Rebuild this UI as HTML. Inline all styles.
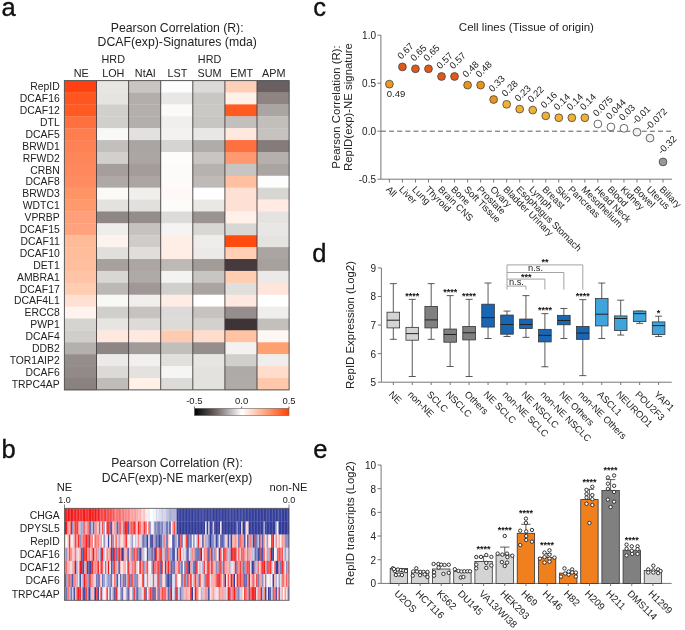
<!DOCTYPE html>
<html><head><meta charset="utf-8"><style>
html,body{margin:0;padding:0;background:#fff;}
svg{display:block;font-family:"Liberation Sans", sans-serif;will-change:transform;}
</style></head><body>
<svg width="685" height="630" viewBox="0 0 685 630">
<rect width="685" height="630" fill="#fff"/>
<text x="1.50" y="15.80" font-size="25.5" text-anchor="start" fill="#111" stroke="#111" stroke-width="0.35">a</text>
<text x="1.50" y="458.00" font-size="25.5" text-anchor="start" fill="#111" stroke="#111" stroke-width="0.35">b</text>
<text x="313.20" y="16.00" font-size="25.5" text-anchor="start" fill="#111" stroke="#111" stroke-width="0.35">c</text>
<text x="312.30" y="262.00" font-size="25.5" text-anchor="start" fill="#111" stroke="#111" stroke-width="0.35">d</text>
<text x="313.20" y="457.60" font-size="25.5" text-anchor="start" fill="#111" stroke="#111" stroke-width="0.35">e</text>
<text x="177.20" y="32.00" font-size="12.25" text-anchor="middle" fill="#222">Pearson Correlation (R):</text>
<text x="177.20" y="46.40" font-size="12.25" text-anchor="middle" fill="#222">DCAF(exp)-Signatures (mda)</text>
<text x="81.15" y="76.90" font-size="10.8" text-anchor="middle" fill="#222">NE</text>
<text x="113.25" y="63.00" font-size="10.8" text-anchor="middle" fill="#222">HRD</text>
<text x="113.25" y="76.90" font-size="10.8" text-anchor="middle" fill="#222">LOH</text>
<text x="145.35" y="76.90" font-size="10.8" text-anchor="middle" fill="#222">NtAI</text>
<text x="177.45" y="76.90" font-size="10.8" text-anchor="middle" fill="#222">LST</text>
<text x="209.55" y="63.00" font-size="10.8" text-anchor="middle" fill="#222">HRD</text>
<text x="209.55" y="76.90" font-size="10.8" text-anchor="middle" fill="#222">SUM</text>
<text x="241.65" y="76.90" font-size="10.8" text-anchor="middle" fill="#222">EMT</text>
<text x="273.75" y="76.90" font-size="10.8" text-anchor="middle" fill="#222">APM</text>
<text x="59.70" y="90.30" font-size="10.4" text-anchor="end" fill="#222">RepID</text>
<rect x="64.40" y="80.60" width="32.40" height="12.20" fill="#ff4010"/>
<rect x="96.50" y="80.60" width="32.40" height="12.20" fill="#e8e6e3"/>
<rect x="128.60" y="80.60" width="32.40" height="12.20" fill="#c8c5c2"/>
<rect x="160.70" y="80.60" width="32.40" height="12.20" fill="#fdfdfd"/>
<rect x="192.80" y="80.60" width="32.40" height="12.20" fill="#dcdad8"/>
<rect x="224.90" y="80.60" width="32.40" height="12.20" fill="#ffd0b8"/>
<rect x="257.00" y="80.60" width="32.40" height="12.20" fill="#6a5f62"/>
<text x="59.70" y="102.19" font-size="10.4" text-anchor="end" fill="#222">DCAF16</text>
<rect x="64.40" y="92.49" width="32.40" height="12.20" fill="#ff5520"/>
<rect x="96.50" y="92.49" width="32.40" height="12.20" fill="#e5e4e1"/>
<rect x="128.60" y="92.49" width="32.40" height="12.20" fill="#b3aeab"/>
<rect x="160.70" y="92.49" width="32.40" height="12.20" fill="#e8e7e5"/>
<rect x="192.80" y="92.49" width="32.40" height="12.20" fill="#c9c7c4"/>
<rect x="224.90" y="92.49" width="32.40" height="12.20" fill="#fff0e8"/>
<rect x="257.00" y="92.49" width="32.40" height="12.20" fill="#8e8583"/>
<text x="59.70" y="114.09" font-size="10.4" text-anchor="end" fill="#222">DCAF12</text>
<rect x="64.40" y="104.39" width="32.40" height="12.20" fill="#ff5a22"/>
<rect x="96.50" y="104.39" width="32.40" height="12.20" fill="#d2d0cd"/>
<rect x="128.60" y="104.39" width="32.40" height="12.20" fill="#b4afac"/>
<rect x="160.70" y="104.39" width="32.40" height="12.20" fill="#fafaf9"/>
<rect x="192.80" y="104.39" width="32.40" height="12.20" fill="#cac8c5"/>
<rect x="224.90" y="104.39" width="32.40" height="12.20" fill="#ff5a20"/>
<rect x="257.00" y="104.39" width="32.40" height="12.20" fill="#aaa5a2"/>
<text x="59.70" y="125.98" font-size="10.4" text-anchor="end" fill="#222">DTL</text>
<rect x="64.40" y="116.28" width="32.40" height="12.20" fill="#ff7040"/>
<rect x="96.50" y="116.28" width="32.40" height="12.20" fill="#d1cfcc"/>
<rect x="128.60" y="116.28" width="32.40" height="12.20" fill="#b3afac"/>
<rect x="160.70" y="116.28" width="32.40" height="12.20" fill="#f0efee"/>
<rect x="192.80" y="116.28" width="32.40" height="12.20" fill="#c8c6c3"/>
<rect x="224.90" y="116.28" width="32.40" height="12.20" fill="#c2bfbc"/>
<rect x="257.00" y="116.28" width="32.40" height="12.20" fill="#c2bfbb"/>
<text x="59.70" y="137.88" font-size="10.4" text-anchor="end" fill="#222">DCAF5</text>
<rect x="64.40" y="128.18" width="32.40" height="12.20" fill="#ff7e50"/>
<rect x="96.50" y="128.18" width="32.40" height="12.20" fill="#f8f8f6"/>
<rect x="128.60" y="128.18" width="32.40" height="12.20" fill="#e2e1df"/>
<rect x="160.70" y="128.18" width="32.40" height="12.20" fill="#f3f2f1"/>
<rect x="192.80" y="128.18" width="32.40" height="12.20" fill="#e8e7e5"/>
<rect x="224.90" y="128.18" width="32.40" height="12.20" fill="#ffe8e0"/>
<rect x="257.00" y="128.18" width="32.40" height="12.20" fill="#c5c2bf"/>
<text x="59.70" y="149.77" font-size="10.4" text-anchor="end" fill="#222">BRWD1</text>
<rect x="64.40" y="140.07" width="32.40" height="12.20" fill="#ff8255"/>
<rect x="96.50" y="140.07" width="32.40" height="12.20" fill="#c2bfbc"/>
<rect x="128.60" y="140.07" width="32.40" height="12.20" fill="#aaa5a2"/>
<rect x="160.70" y="140.07" width="32.40" height="12.20" fill="#d5d4d2"/>
<rect x="192.80" y="140.07" width="32.40" height="12.20" fill="#b0aca9"/>
<rect x="224.90" y="140.07" width="32.40" height="12.20" fill="#ff7040"/>
<rect x="257.00" y="140.07" width="32.40" height="12.20" fill="#857b7a"/>
<text x="59.70" y="161.67" font-size="10.4" text-anchor="end" fill="#222">RFWD2</text>
<rect x="64.40" y="151.97" width="32.40" height="12.20" fill="#ff8658"/>
<rect x="96.50" y="151.97" width="32.40" height="12.20" fill="#d2d0cd"/>
<rect x="128.60" y="151.97" width="32.40" height="12.20" fill="#aba6a3"/>
<rect x="160.70" y="151.97" width="32.40" height="12.20" fill="#fefcfb"/>
<rect x="192.80" y="151.97" width="32.40" height="12.20" fill="#c8c5c2"/>
<rect x="224.90" y="151.97" width="32.40" height="12.20" fill="#ff9a70"/>
<rect x="257.00" y="151.97" width="32.40" height="12.20" fill="#b5b0ad"/>
<text x="59.70" y="173.56" font-size="10.4" text-anchor="end" fill="#222">CRBN</text>
<rect x="64.40" y="163.87" width="32.40" height="12.20" fill="#ff895c"/>
<rect x="96.50" y="163.87" width="32.40" height="12.20" fill="#a59e9c"/>
<rect x="128.60" y="163.87" width="32.40" height="12.20" fill="#a39c9a"/>
<rect x="160.70" y="163.87" width="32.40" height="12.20" fill="#fdfbfa"/>
<rect x="192.80" y="163.87" width="32.40" height="12.20" fill="#b6b2af"/>
<rect x="224.90" y="163.87" width="32.40" height="12.20" fill="#c8c4c1"/>
<rect x="257.00" y="163.87" width="32.40" height="12.20" fill="#aaa5a2"/>
<text x="59.70" y="185.46" font-size="10.4" text-anchor="end" fill="#222">DCAF8</text>
<rect x="64.40" y="175.76" width="32.40" height="12.20" fill="#ff8c60"/>
<rect x="96.50" y="175.76" width="32.40" height="12.20" fill="#aea9a6"/>
<rect x="128.60" y="175.76" width="32.40" height="12.20" fill="#aba6a3"/>
<rect x="160.70" y="175.76" width="32.40" height="12.20" fill="#fcfbfa"/>
<rect x="192.80" y="175.76" width="32.40" height="12.20" fill="#bdbab7"/>
<rect x="224.90" y="175.76" width="32.40" height="12.20" fill="#ffc0a0"/>
<rect x="257.00" y="175.76" width="32.40" height="12.20" fill="#fdfdfd"/>
<text x="59.70" y="197.35" font-size="10.4" text-anchor="end" fill="#222">BRWD3</text>
<rect x="64.40" y="187.65" width="32.40" height="12.20" fill="#ff9565"/>
<rect x="96.50" y="187.65" width="32.40" height="12.20" fill="#fcfaf8"/>
<rect x="128.60" y="187.65" width="32.40" height="12.20" fill="#f0efed"/>
<rect x="160.70" y="187.65" width="32.40" height="12.20" fill="#fef9f7"/>
<rect x="192.80" y="187.65" width="32.40" height="12.20" fill="#ffffff"/>
<rect x="224.90" y="187.65" width="32.40" height="12.20" fill="#ffe0d5"/>
<rect x="257.00" y="187.65" width="32.40" height="12.20" fill="#d8d6d3"/>
<text x="59.70" y="209.25" font-size="10.4" text-anchor="end" fill="#222">WDTC1</text>
<rect x="64.40" y="199.55" width="32.40" height="12.20" fill="#ff9a6e"/>
<rect x="96.50" y="199.55" width="32.40" height="12.20" fill="#e4e2df"/>
<rect x="128.60" y="199.55" width="32.40" height="12.20" fill="#e2e0dd"/>
<rect x="160.70" y="199.55" width="32.40" height="12.20" fill="#fdfcfb"/>
<rect x="192.80" y="199.55" width="32.40" height="12.20" fill="#e9e8e5"/>
<rect x="224.90" y="199.55" width="32.40" height="12.20" fill="#ffe0d5"/>
<rect x="257.00" y="199.55" width="32.40" height="12.20" fill="#ffebe3"/>
<text x="59.70" y="221.14" font-size="10.4" text-anchor="end" fill="#222">VPRBP</text>
<rect x="64.40" y="211.44" width="32.40" height="12.20" fill="#ffa07a"/>
<rect x="96.50" y="211.44" width="32.40" height="12.20" fill="#8f8785"/>
<rect x="128.60" y="211.44" width="32.40" height="12.20" fill="#958d8b"/>
<rect x="160.70" y="211.44" width="32.40" height="12.20" fill="#dddbd9"/>
<rect x="192.80" y="211.44" width="32.40" height="12.20" fill="#9a9391"/>
<rect x="224.90" y="211.44" width="32.40" height="12.20" fill="#fff0ea"/>
<rect x="257.00" y="211.44" width="32.40" height="12.20" fill="#e4e3e0"/>
<text x="59.70" y="233.04" font-size="10.4" text-anchor="end" fill="#222">DCAF15</text>
<rect x="64.40" y="223.34" width="32.40" height="12.20" fill="#ffa27d"/>
<rect x="96.50" y="223.34" width="32.40" height="12.20" fill="#eeedeb"/>
<rect x="128.60" y="223.34" width="32.40" height="12.20" fill="#c5c2bf"/>
<rect x="160.70" y="223.34" width="32.40" height="12.20" fill="#f5f4f3"/>
<rect x="192.80" y="223.34" width="32.40" height="12.20" fill="#d9d7d4"/>
<rect x="224.90" y="223.34" width="32.40" height="12.20" fill="#d9d7d4"/>
<rect x="257.00" y="223.34" width="32.40" height="12.20" fill="#e8e7e5"/>
<text x="59.70" y="244.93" font-size="10.4" text-anchor="end" fill="#222">DCAF11</text>
<rect x="64.40" y="235.23" width="32.40" height="12.20" fill="#ffbb98"/>
<rect x="96.50" y="235.23" width="32.40" height="12.20" fill="#fdf3ee"/>
<rect x="128.60" y="235.23" width="32.40" height="12.20" fill="#cfccc9"/>
<rect x="160.70" y="235.23" width="32.40" height="12.20" fill="#ffeee6"/>
<rect x="192.80" y="235.23" width="32.40" height="12.20" fill="#eeedeb"/>
<rect x="224.90" y="235.23" width="32.40" height="12.20" fill="#ff4a10"/>
<rect x="257.00" y="235.23" width="32.40" height="12.20" fill="#e4e3e0"/>
<text x="59.70" y="256.83" font-size="10.4" text-anchor="end" fill="#222">DCAF10</text>
<rect x="64.40" y="247.13" width="32.40" height="12.20" fill="#ffbd9c"/>
<rect x="96.50" y="247.13" width="32.40" height="12.20" fill="#e0dfdc"/>
<rect x="128.60" y="247.13" width="32.40" height="12.20" fill="#dfdeda"/>
<rect x="160.70" y="247.13" width="32.40" height="12.20" fill="#ffeee6"/>
<rect x="192.80" y="247.13" width="32.40" height="12.20" fill="#eceae8"/>
<rect x="224.90" y="247.13" width="32.40" height="12.20" fill="#ffd0b5"/>
<rect x="257.00" y="247.13" width="32.40" height="12.20" fill="#aaa5a2"/>
<text x="59.70" y="268.72" font-size="10.4" text-anchor="end" fill="#222">DET1</text>
<rect x="64.40" y="259.02" width="32.40" height="12.20" fill="#ffbe9e"/>
<rect x="96.50" y="259.02" width="32.40" height="12.20" fill="#a7a19e"/>
<rect x="128.60" y="259.02" width="32.40" height="12.20" fill="#aba6a3"/>
<rect x="160.70" y="259.02" width="32.40" height="12.20" fill="#bdbab6"/>
<rect x="192.80" y="259.02" width="32.40" height="12.20" fill="#a29c99"/>
<rect x="224.90" y="259.02" width="32.40" height="12.20" fill="#463a3e"/>
<rect x="257.00" y="259.02" width="32.40" height="12.20" fill="#a7a19e"/>
<text x="59.70" y="280.62" font-size="10.4" text-anchor="end" fill="#222">AMBRA1</text>
<rect x="64.40" y="270.92" width="32.40" height="12.20" fill="#ffc3a5"/>
<rect x="96.50" y="270.92" width="32.40" height="12.20" fill="#d9d7d4"/>
<rect x="128.60" y="270.92" width="32.40" height="12.20" fill="#aeaaa7"/>
<rect x="160.70" y="270.92" width="32.40" height="12.20" fill="#f3f3f1"/>
<rect x="192.80" y="270.92" width="32.40" height="12.20" fill="#c8c6c3"/>
<rect x="224.90" y="270.92" width="32.40" height="12.20" fill="#ffcdb0"/>
<rect x="257.00" y="270.92" width="32.40" height="12.20" fill="#eceae8"/>
<text x="59.70" y="292.51" font-size="10.4" text-anchor="end" fill="#222">DCAF17</text>
<rect x="64.40" y="282.81" width="32.40" height="12.20" fill="#ffcdb2"/>
<rect x="96.50" y="282.81" width="32.40" height="12.20" fill="#bcb8b5"/>
<rect x="128.60" y="282.81" width="32.40" height="12.20" fill="#9f9896"/>
<rect x="160.70" y="282.81" width="32.40" height="12.20" fill="#d1cfcc"/>
<rect x="192.80" y="282.81" width="32.40" height="12.20" fill="#aaa5a2"/>
<rect x="224.90" y="282.81" width="32.40" height="12.20" fill="#e0dfdc"/>
<rect x="257.00" y="282.81" width="32.40" height="12.20" fill="#ffe5da"/>
<text x="59.70" y="304.41" font-size="10.4" text-anchor="end" fill="#222">DCAF4L1</text>
<rect x="64.40" y="294.71" width="32.40" height="12.20" fill="#ffe0d2"/>
<rect x="96.50" y="294.71" width="32.40" height="12.20" fill="#f8f8f6"/>
<rect x="128.60" y="294.71" width="32.40" height="12.20" fill="#f0efed"/>
<rect x="160.70" y="294.71" width="32.40" height="12.20" fill="#ffede5"/>
<rect x="192.80" y="294.71" width="32.40" height="12.20" fill="#ffffff"/>
<rect x="224.90" y="294.71" width="32.40" height="12.20" fill="#ffe8e0"/>
<rect x="257.00" y="294.71" width="32.40" height="12.20" fill="#ffffff"/>
<text x="59.70" y="316.30" font-size="10.4" text-anchor="end" fill="#222">ERCC8</text>
<rect x="64.40" y="306.61" width="32.40" height="12.20" fill="#fff3ee"/>
<rect x="96.50" y="306.61" width="32.40" height="12.20" fill="#d1cfcc"/>
<rect x="128.60" y="306.61" width="32.40" height="12.20" fill="#c6c3c0"/>
<rect x="160.70" y="306.61" width="32.40" height="12.20" fill="#dddbd9"/>
<rect x="192.80" y="306.61" width="32.40" height="12.20" fill="#c6c3c0"/>
<rect x="224.90" y="306.61" width="32.40" height="12.20" fill="#968e8c"/>
<rect x="257.00" y="306.61" width="32.40" height="12.20" fill="#efeeed"/>
<text x="59.70" y="328.20" font-size="10.4" text-anchor="end" fill="#222">PWP1</text>
<rect x="64.40" y="318.50" width="32.40" height="12.20" fill="#d6d4d1"/>
<rect x="96.50" y="318.50" width="32.40" height="12.20" fill="#e6e5e2"/>
<rect x="128.60" y="318.50" width="32.40" height="12.20" fill="#dddbd8"/>
<rect x="160.70" y="318.50" width="32.40" height="12.20" fill="#dddbd8"/>
<rect x="192.80" y="318.50" width="32.40" height="12.20" fill="#d3d1ce"/>
<rect x="224.90" y="318.50" width="32.40" height="12.20" fill="#3e3337"/>
<rect x="257.00" y="318.50" width="32.40" height="12.20" fill="#c3c0bc"/>
<text x="59.70" y="340.09" font-size="10.4" text-anchor="end" fill="#222">DCAF4</text>
<rect x="64.40" y="330.39" width="32.40" height="12.20" fill="#d0cecb"/>
<rect x="96.50" y="330.39" width="32.40" height="12.20" fill="#ffe8dd"/>
<rect x="128.60" y="330.39" width="32.40" height="12.20" fill="#ffe8dd"/>
<rect x="160.70" y="330.39" width="32.40" height="12.20" fill="#ffcbb0"/>
<rect x="192.80" y="330.39" width="32.40" height="12.20" fill="#ffdccc"/>
<rect x="224.90" y="330.39" width="32.40" height="12.20" fill="#ffc2a2"/>
<rect x="257.00" y="330.39" width="32.40" height="12.20" fill="#fff7f3"/>
<text x="59.70" y="351.99" font-size="10.4" text-anchor="end" fill="#222">DDB2</text>
<rect x="64.40" y="342.29" width="32.40" height="12.20" fill="#b4b0ad"/>
<rect x="96.50" y="342.29" width="32.40" height="12.20" fill="#8e8684"/>
<rect x="128.60" y="342.29" width="32.40" height="12.20" fill="#a09a98"/>
<rect x="160.70" y="342.29" width="32.40" height="12.20" fill="#c2bfbb"/>
<rect x="192.80" y="342.29" width="32.40" height="12.20" fill="#958e8c"/>
<rect x="224.90" y="342.29" width="32.40" height="12.20" fill="#f3f2f0"/>
<rect x="257.00" y="342.29" width="32.40" height="12.20" fill="#ffa070"/>
<text x="59.70" y="363.88" font-size="10.4" text-anchor="end" fill="#222">TOR1AIP2</text>
<rect x="64.40" y="354.18" width="32.40" height="12.20" fill="#958d8b"/>
<rect x="96.50" y="354.18" width="32.40" height="12.20" fill="#ebeae8"/>
<rect x="128.60" y="354.18" width="32.40" height="12.20" fill="#f1f0ee"/>
<rect x="160.70" y="354.18" width="32.40" height="12.20" fill="#e1e0dd"/>
<rect x="192.80" y="354.18" width="32.40" height="12.20" fill="#e6e5e2"/>
<rect x="224.90" y="354.18" width="32.40" height="12.20" fill="#d1cfcc"/>
<rect x="257.00" y="354.18" width="32.40" height="12.20" fill="#efeeec"/>
<text x="59.70" y="375.78" font-size="10.4" text-anchor="end" fill="#222">DCAF6</text>
<rect x="64.40" y="366.08" width="32.40" height="12.20" fill="#928a88"/>
<rect x="96.50" y="366.08" width="32.40" height="12.20" fill="#dcdad7"/>
<rect x="128.60" y="366.08" width="32.40" height="12.20" fill="#e3e2df"/>
<rect x="160.70" y="366.08" width="32.40" height="12.20" fill="#f5f5f3"/>
<rect x="192.80" y="366.08" width="32.40" height="12.20" fill="#e3e2df"/>
<rect x="224.90" y="366.08" width="32.40" height="12.20" fill="#aeaaa7"/>
<rect x="257.00" y="366.08" width="32.40" height="12.20" fill="#ffdccc"/>
<text x="59.70" y="387.67" font-size="10.4" text-anchor="end" fill="#222">TRPC4AP</text>
<rect x="64.40" y="377.98" width="32.40" height="12.20" fill="#8a8280"/>
<rect x="96.50" y="377.98" width="32.40" height="12.20" fill="#c0bdb9"/>
<rect x="128.60" y="377.98" width="32.40" height="12.20" fill="#fff0e8"/>
<rect x="160.70" y="377.98" width="32.40" height="12.20" fill="#dddbd8"/>
<rect x="192.80" y="377.98" width="32.40" height="12.20" fill="#e3e2df"/>
<rect x="224.90" y="377.98" width="32.40" height="12.20" fill="#b0aba8"/>
<rect x="257.00" y="377.98" width="32.40" height="12.20" fill="#ffc8aa"/>
<line x1="96.50" y1="80.60" x2="96.50" y2="389.87" stroke="#443c3d" stroke-width="0.9"/>
<line x1="128.60" y1="80.60" x2="128.60" y2="389.87" stroke="#443c3d" stroke-width="0.9"/>
<line x1="160.70" y1="80.60" x2="160.70" y2="389.87" stroke="#443c3d" stroke-width="0.9"/>
<line x1="192.80" y1="80.60" x2="192.80" y2="389.87" stroke="#443c3d" stroke-width="0.9"/>
<line x1="224.90" y1="80.60" x2="224.90" y2="389.87" stroke="#443c3d" stroke-width="0.9"/>
<line x1="257.00" y1="80.60" x2="257.00" y2="389.87" stroke="#443c3d" stroke-width="0.9"/>
<rect x="64.40" y="80.60" width="224.70" height="309.27" fill="none" stroke="#555" stroke-width="1"/>
<defs><linearGradient id="cb" x1="0" x2="1" y1="0" y2="0"><stop offset="0" stop-color="#000"/><stop offset="0.25" stop-color="#7a6f6f"/><stop offset="0.5" stop-color="#ffffff"/><stop offset="0.75" stop-color="#ffa580"/><stop offset="1" stop-color="#ff4000"/></linearGradient></defs>
<rect x="194.40" y="408.30" width="94.60" height="7.30" fill="url(#cb)" stroke="#666" stroke-width="0.6"/>
<line x1="194.40" y1="406.50" x2="194.40" y2="408.30" stroke="#444" stroke-width="0.8"/>
<text x="194.40" y="404.30" font-size="9.5" text-anchor="middle" fill="#222">-0.5</text>
<line x1="241.70" y1="406.50" x2="241.70" y2="408.30" stroke="#444" stroke-width="0.8"/>
<text x="241.70" y="404.30" font-size="9.5" text-anchor="middle" fill="#222">0.0</text>
<line x1="289.00" y1="406.50" x2="289.00" y2="408.30" stroke="#444" stroke-width="0.8"/>
<text x="289.00" y="404.30" font-size="9.5" text-anchor="middle" fill="#222">0.5</text>
<text x="177.00" y="467.40" font-size="12.15" text-anchor="middle" fill="#222">Pearson Correlation (R):</text>
<text x="177.00" y="481.90" font-size="12.15" text-anchor="middle" fill="#222">DCAF(exp)-NE marker(exp)</text>
<text x="64.50" y="491.00" font-size="11.2" text-anchor="middle" fill="#222">NE</text>
<text x="64.50" y="503.40" font-size="9" text-anchor="middle" fill="#222">1.0</text>
<text x="288.50" y="491.00" font-size="11.2" text-anchor="middle" fill="#222">non-NE</text>
<text x="289.00" y="503.40" font-size="9" text-anchor="middle" fill="#222">0.0</text>
<line x1="64.50" y1="504.50" x2="64.50" y2="508.30" stroke="#666" stroke-width="0.8"/>
<line x1="289.00" y1="504.50" x2="289.00" y2="508.30" stroke="#666" stroke-width="0.8"/>
<text x="59.70" y="518.67" font-size="10.4" text-anchor="end" fill="#222">CHGA</text>
<rect x="64.50" y="508.30" width="1.65" height="13.34" fill="#f21f1f"/>
<rect x="66.00" y="508.30" width="1.65" height="13.34" fill="#f32828"/>
<rect x="67.49" y="508.30" width="1.65" height="13.34" fill="#f21616"/>
<rect x="68.99" y="508.30" width="1.65" height="13.34" fill="#f32e2e"/>
<rect x="70.49" y="508.30" width="1.65" height="13.34" fill="#f21919"/>
<rect x="71.98" y="508.30" width="1.65" height="13.34" fill="#f32222"/>
<rect x="73.48" y="508.30" width="1.65" height="13.34" fill="#f43131"/>
<rect x="74.98" y="508.30" width="1.65" height="13.34" fill="#f21d1d"/>
<rect x="76.47" y="508.30" width="1.65" height="13.34" fill="#f43434"/>
<rect x="77.97" y="508.30" width="1.65" height="13.34" fill="#f32323"/>
<rect x="79.47" y="508.30" width="1.65" height="13.34" fill="#f43535"/>
<rect x="80.96" y="508.30" width="1.65" height="13.34" fill="#f43535"/>
<rect x="82.46" y="508.30" width="1.65" height="13.34" fill="#f32626"/>
<rect x="83.96" y="508.30" width="1.65" height="13.34" fill="#f21616"/>
<rect x="85.45" y="508.30" width="1.65" height="13.34" fill="#f43737"/>
<rect x="86.95" y="508.30" width="1.65" height="13.34" fill="#f43333"/>
<rect x="88.45" y="508.30" width="1.65" height="13.34" fill="#f32121"/>
<rect x="89.94" y="508.30" width="1.65" height="13.34" fill="#f21616"/>
<rect x="91.44" y="508.30" width="1.65" height="13.34" fill="#f32626"/>
<rect x="92.94" y="508.30" width="1.65" height="13.34" fill="#f32f2f"/>
<rect x="94.43" y="508.30" width="1.65" height="13.34" fill="#f21616"/>
<rect x="95.93" y="508.30" width="1.65" height="13.34" fill="#f44141"/>
<rect x="97.43" y="508.30" width="1.65" height="13.34" fill="#f21d1d"/>
<rect x="98.92" y="508.30" width="1.65" height="13.34" fill="#f43c3c"/>
<rect x="100.42" y="508.30" width="1.65" height="13.34" fill="#f54747"/>
<rect x="101.92" y="508.30" width="1.65" height="13.34" fill="#f54d4d"/>
<rect x="103.41" y="508.30" width="1.65" height="13.34" fill="#f54949"/>
<rect x="104.91" y="508.30" width="1.65" height="13.34" fill="#f43636"/>
<rect x="106.41" y="508.30" width="1.65" height="13.34" fill="#f65858"/>
<rect x="107.90" y="508.30" width="1.65" height="13.34" fill="#f54a4a"/>
<rect x="109.40" y="508.30" width="1.65" height="13.34" fill="#f54c4c"/>
<rect x="110.90" y="508.30" width="1.65" height="13.34" fill="#f65d5d"/>
<rect x="112.39" y="508.30" width="1.65" height="13.34" fill="#f65a5a"/>
<rect x="113.89" y="508.30" width="1.65" height="13.34" fill="#f77575"/>
<rect x="115.39" y="508.30" width="1.65" height="13.34" fill="#f87a7a"/>
<rect x="116.88" y="508.30" width="1.65" height="13.34" fill="#f77878"/>
<rect x="118.38" y="508.30" width="1.65" height="13.34" fill="#f66666"/>
<rect x="119.88" y="508.30" width="1.65" height="13.34" fill="#f77777"/>
<rect x="121.37" y="508.30" width="1.65" height="13.34" fill="#f88282"/>
<rect x="122.87" y="508.30" width="1.65" height="13.34" fill="#f87b7b"/>
<rect x="124.37" y="508.30" width="1.65" height="13.34" fill="#f88686"/>
<rect x="125.86" y="508.30" width="1.65" height="13.34" fill="#f99393"/>
<rect x="127.36" y="508.30" width="1.65" height="13.34" fill="#f88282"/>
<rect x="128.86" y="508.30" width="1.65" height="13.34" fill="#f98c8c"/>
<rect x="130.35" y="508.30" width="1.65" height="13.34" fill="#faa7a7"/>
<rect x="131.85" y="508.30" width="1.65" height="13.34" fill="#fa9d9d"/>
<rect x="133.35" y="508.30" width="1.65" height="13.34" fill="#faa5a5"/>
<rect x="134.84" y="508.30" width="1.65" height="13.34" fill="#f99a9a"/>
<rect x="136.34" y="508.30" width="1.65" height="13.34" fill="#faa7a7"/>
<rect x="137.84" y="508.30" width="1.65" height="13.34" fill="#fcc1c1"/>
<rect x="139.33" y="508.30" width="1.65" height="13.34" fill="#faa6a6"/>
<rect x="140.83" y="508.30" width="1.65" height="13.34" fill="#fdd4d4"/>
<rect x="142.33" y="508.30" width="1.65" height="13.34" fill="#fccccc"/>
<rect x="143.82" y="508.30" width="1.65" height="13.34" fill="#fcc2c2"/>
<rect x="145.32" y="508.30" width="1.65" height="13.34" fill="#feebeb"/>
<rect x="146.82" y="508.30" width="1.65" height="13.34" fill="#fef0f0"/>
<rect x="148.31" y="508.30" width="1.65" height="13.34" fill="#eaebf4"/>
<rect x="149.81" y="508.30" width="1.65" height="13.34" fill="#ffffff"/>
<rect x="151.31" y="508.30" width="1.65" height="13.34" fill="#fdfefe"/>
<rect x="152.80" y="508.30" width="1.65" height="13.34" fill="#f0f0f7"/>
<rect x="154.30" y="508.30" width="1.65" height="13.34" fill="#f7f7fb"/>
<rect x="155.80" y="508.30" width="1.65" height="13.34" fill="#d9dbec"/>
<rect x="157.29" y="508.30" width="1.65" height="13.34" fill="#e4e5f1"/>
<rect x="158.79" y="508.30" width="1.65" height="13.34" fill="#dadcec"/>
<rect x="160.29" y="508.30" width="1.65" height="13.34" fill="#d4d6e9"/>
<rect x="161.78" y="508.30" width="1.65" height="13.34" fill="#c9cbe4"/>
<rect x="163.28" y="508.30" width="1.65" height="13.34" fill="#d3d5e9"/>
<rect x="164.78" y="508.30" width="1.65" height="13.34" fill="#d2d4e8"/>
<rect x="166.27" y="508.30" width="1.65" height="13.34" fill="#b8bcdb"/>
<rect x="167.77" y="508.30" width="1.65" height="13.34" fill="#bbbedd"/>
<rect x="169.27" y="508.30" width="1.65" height="13.34" fill="#9ba0cd"/>
<rect x="170.76" y="508.30" width="1.65" height="13.34" fill="#b1b5d8"/>
<rect x="172.26" y="508.30" width="1.65" height="13.34" fill="#a9add4"/>
<rect x="173.76" y="508.30" width="1.65" height="13.34" fill="#b2b6d8"/>
<rect x="175.25" y="508.30" width="1.65" height="13.34" fill="#a5a9d2"/>
<rect x="176.75" y="508.30" width="1.65" height="13.34" fill="#343e99"/>
<rect x="178.25" y="508.30" width="1.65" height="13.34" fill="#353f9a"/>
<rect x="179.74" y="508.30" width="1.65" height="13.34" fill="#39429c"/>
<rect x="181.24" y="508.30" width="1.65" height="13.34" fill="#313a97"/>
<rect x="182.74" y="508.30" width="1.65" height="13.34" fill="#36409a"/>
<rect x="184.23" y="508.30" width="1.65" height="13.34" fill="#333c98"/>
<rect x="185.73" y="508.30" width="1.65" height="13.34" fill="#323c98"/>
<rect x="187.23" y="508.30" width="1.65" height="13.34" fill="#313b98"/>
<rect x="188.72" y="508.30" width="1.65" height="13.34" fill="#3a439c"/>
<rect x="190.22" y="508.30" width="1.65" height="13.34" fill="#323c98"/>
<rect x="191.72" y="508.30" width="1.65" height="13.34" fill="#343d99"/>
<rect x="193.21" y="508.30" width="1.65" height="13.34" fill="#353f9a"/>
<rect x="194.71" y="508.30" width="1.65" height="13.34" fill="#3c459d"/>
<rect x="196.21" y="508.30" width="1.65" height="13.34" fill="#313b98"/>
<rect x="197.70" y="508.30" width="1.65" height="13.34" fill="#36409a"/>
<rect x="199.20" y="508.30" width="1.65" height="13.34" fill="#37419b"/>
<rect x="200.70" y="508.30" width="1.65" height="13.34" fill="#3c459d"/>
<rect x="202.19" y="508.30" width="1.65" height="13.34" fill="#3b449c"/>
<rect x="203.69" y="508.30" width="1.65" height="13.34" fill="#3b459d"/>
<rect x="205.19" y="508.30" width="1.65" height="13.34" fill="#343d99"/>
<rect x="206.68" y="508.30" width="1.65" height="13.34" fill="#363f9a"/>
<rect x="208.18" y="508.30" width="1.65" height="13.34" fill="#353e9a"/>
<rect x="209.68" y="508.30" width="1.65" height="13.34" fill="#3c459d"/>
<rect x="211.17" y="508.30" width="1.65" height="13.34" fill="#3d469d"/>
<rect x="212.67" y="508.30" width="1.65" height="13.34" fill="#323c98"/>
<rect x="214.17" y="508.30" width="1.65" height="13.34" fill="#333c98"/>
<rect x="215.66" y="508.30" width="1.65" height="13.34" fill="#333d99"/>
<rect x="217.16" y="508.30" width="1.65" height="13.34" fill="#333d99"/>
<rect x="218.66" y="508.30" width="1.65" height="13.34" fill="#37409a"/>
<rect x="220.15" y="508.30" width="1.65" height="13.34" fill="#38419b"/>
<rect x="221.65" y="508.30" width="1.65" height="13.34" fill="#343d99"/>
<rect x="223.15" y="508.30" width="1.65" height="13.34" fill="#303a97"/>
<rect x="224.64" y="508.30" width="1.65" height="13.34" fill="#363f9a"/>
<rect x="226.14" y="508.30" width="1.65" height="13.34" fill="#353f9a"/>
<rect x="227.64" y="508.30" width="1.65" height="13.34" fill="#38419b"/>
<rect x="229.13" y="508.30" width="1.65" height="13.34" fill="#3d469d"/>
<rect x="230.63" y="508.30" width="1.65" height="13.34" fill="#39439c"/>
<rect x="232.13" y="508.30" width="1.65" height="13.34" fill="#37409b"/>
<rect x="233.62" y="508.30" width="1.65" height="13.34" fill="#38429b"/>
<rect x="235.12" y="508.30" width="1.65" height="13.34" fill="#39429c"/>
<rect x="236.62" y="508.30" width="1.65" height="13.34" fill="#313b98"/>
<rect x="238.11" y="508.30" width="1.65" height="13.34" fill="#3c459d"/>
<rect x="239.61" y="508.30" width="1.65" height="13.34" fill="#3a449c"/>
<rect x="241.11" y="508.30" width="1.65" height="13.34" fill="#3c459d"/>
<rect x="242.60" y="508.30" width="1.65" height="13.34" fill="#3b449c"/>
<rect x="244.10" y="508.30" width="1.65" height="13.34" fill="#353f9a"/>
<rect x="245.60" y="508.30" width="1.65" height="13.34" fill="#353f9a"/>
<rect x="247.09" y="508.30" width="1.65" height="13.34" fill="#323b98"/>
<rect x="248.59" y="508.30" width="1.65" height="13.34" fill="#38429b"/>
<rect x="250.09" y="508.30" width="1.65" height="13.34" fill="#313b98"/>
<rect x="251.58" y="508.30" width="1.65" height="13.34" fill="#313b98"/>
<rect x="253.08" y="508.30" width="1.65" height="13.34" fill="#333d99"/>
<rect x="254.58" y="508.30" width="1.65" height="13.34" fill="#323c98"/>
<rect x="256.07" y="508.30" width="1.65" height="13.34" fill="#353e99"/>
<rect x="257.57" y="508.30" width="1.65" height="13.34" fill="#313b98"/>
<rect x="259.07" y="508.30" width="1.65" height="13.34" fill="#303a97"/>
<rect x="260.56" y="508.30" width="1.65" height="13.34" fill="#323c98"/>
<rect x="262.06" y="508.30" width="1.65" height="13.34" fill="#323b98"/>
<rect x="263.56" y="508.30" width="1.65" height="13.34" fill="#353f9a"/>
<rect x="265.05" y="508.30" width="1.65" height="13.34" fill="#313a97"/>
<rect x="266.55" y="508.30" width="1.65" height="13.34" fill="#3c459d"/>
<rect x="268.05" y="508.30" width="1.65" height="13.34" fill="#38429b"/>
<rect x="269.54" y="508.30" width="1.65" height="13.34" fill="#323c98"/>
<rect x="271.04" y="508.30" width="1.65" height="13.34" fill="#343d99"/>
<rect x="272.54" y="508.30" width="1.65" height="13.34" fill="#353e99"/>
<rect x="274.03" y="508.30" width="1.65" height="13.34" fill="#353f9a"/>
<rect x="275.53" y="508.30" width="1.65" height="13.34" fill="#323c98"/>
<rect x="277.03" y="508.30" width="1.65" height="13.34" fill="#3b449d"/>
<rect x="278.52" y="508.30" width="1.65" height="13.34" fill="#3d469e"/>
<rect x="280.02" y="508.30" width="1.65" height="13.34" fill="#36409a"/>
<rect x="281.52" y="508.30" width="1.65" height="13.34" fill="#37409a"/>
<rect x="283.01" y="508.30" width="1.65" height="13.34" fill="#313b98"/>
<rect x="284.51" y="508.30" width="1.65" height="13.34" fill="#323b98"/>
<rect x="286.01" y="508.30" width="1.65" height="13.34" fill="#353e99"/>
<rect x="287.50" y="508.30" width="1.65" height="13.34" fill="#343d99"/>
<text x="59.70" y="531.81" font-size="10.4" text-anchor="end" fill="#222">DPYSL5</text>
<rect x="64.50" y="521.44" width="1.65" height="13.34" fill="#424ba0"/>
<rect x="66.00" y="521.44" width="1.65" height="13.34" fill="#f21e1e"/>
<rect x="67.49" y="521.44" width="1.65" height="13.34" fill="#faa1a1"/>
<rect x="68.99" y="521.44" width="1.65" height="13.34" fill="#fbb5b5"/>
<rect x="70.49" y="521.44" width="1.65" height="13.34" fill="#f21a1a"/>
<rect x="71.98" y="521.44" width="1.65" height="13.34" fill="#9297c8"/>
<rect x="73.48" y="521.44" width="1.65" height="13.34" fill="#f87d7d"/>
<rect x="74.98" y="521.44" width="1.65" height="13.34" fill="#f43b3b"/>
<rect x="76.47" y="521.44" width="1.65" height="13.34" fill="#f43a3a"/>
<rect x="77.97" y="521.44" width="1.65" height="13.34" fill="#f99595"/>
<rect x="79.47" y="521.44" width="1.65" height="13.34" fill="#bdc0de"/>
<rect x="80.96" y="521.44" width="1.65" height="13.34" fill="#a2a7d0"/>
<rect x="82.46" y="521.44" width="1.65" height="13.34" fill="#989dcb"/>
<rect x="83.96" y="521.44" width="1.65" height="13.34" fill="#f66565"/>
<rect x="85.45" y="521.44" width="1.65" height="13.34" fill="#fbb4b4"/>
<rect x="86.95" y="521.44" width="1.65" height="13.34" fill="#f98c8c"/>
<rect x="88.45" y="521.44" width="1.65" height="13.34" fill="#f54848"/>
<rect x="89.94" y="521.44" width="1.65" height="13.34" fill="#6d74b5"/>
<rect x="91.44" y="521.44" width="1.65" height="13.34" fill="#bdc0de"/>
<rect x="92.94" y="521.44" width="1.65" height="13.34" fill="#6068af"/>
<rect x="94.43" y="521.44" width="1.65" height="13.34" fill="#f99494"/>
<rect x="95.93" y="521.44" width="1.65" height="13.34" fill="#f99898"/>
<rect x="97.43" y="521.44" width="1.65" height="13.34" fill="#fcc7c7"/>
<rect x="98.92" y="521.44" width="1.65" height="13.34" fill="#7178b8"/>
<rect x="100.42" y="521.44" width="1.65" height="13.34" fill="#fdd5d5"/>
<rect x="101.92" y="521.44" width="1.65" height="13.34" fill="#f54d4d"/>
<rect x="103.41" y="521.44" width="1.65" height="13.34" fill="#9fa3cf"/>
<rect x="104.91" y="521.44" width="1.65" height="13.34" fill="#fcfcfe"/>
<rect x="106.41" y="521.44" width="1.65" height="13.34" fill="#f43838"/>
<rect x="107.90" y="521.44" width="1.65" height="13.34" fill="#f43636"/>
<rect x="109.40" y="521.44" width="1.65" height="13.34" fill="#656cb2"/>
<rect x="110.90" y="521.44" width="1.65" height="13.34" fill="#f21f1f"/>
<rect x="112.39" y="521.44" width="1.65" height="13.34" fill="#d5d7ea"/>
<rect x="113.89" y="521.44" width="1.65" height="13.34" fill="#faa0a0"/>
<rect x="115.39" y="521.44" width="1.65" height="13.34" fill="#a2a7d0"/>
<rect x="116.88" y="521.44" width="1.65" height="13.34" fill="#f43232"/>
<rect x="118.38" y="521.44" width="1.65" height="13.34" fill="#8c91c5"/>
<rect x="119.88" y="521.44" width="1.65" height="13.34" fill="#f66060"/>
<rect x="121.37" y="521.44" width="1.65" height="13.34" fill="#fbb7b7"/>
<rect x="122.87" y="521.44" width="1.65" height="13.34" fill="#8b90c5"/>
<rect x="124.37" y="521.44" width="1.65" height="13.34" fill="#f32121"/>
<rect x="125.86" y="521.44" width="1.65" height="13.34" fill="#f32b2b"/>
<rect x="127.36" y="521.44" width="1.65" height="13.34" fill="#4952a4"/>
<rect x="128.86" y="521.44" width="1.65" height="13.34" fill="#f88989"/>
<rect x="130.35" y="521.44" width="1.65" height="13.34" fill="#f65959"/>
<rect x="131.85" y="521.44" width="1.65" height="13.34" fill="#f77575"/>
<rect x="133.35" y="521.44" width="1.65" height="13.34" fill="#f32525"/>
<rect x="134.84" y="521.44" width="1.65" height="13.34" fill="#f76e6e"/>
<rect x="136.34" y="521.44" width="1.65" height="13.34" fill="#fcc6c6"/>
<rect x="137.84" y="521.44" width="1.65" height="13.34" fill="#f32323"/>
<rect x="139.33" y="521.44" width="1.65" height="13.34" fill="#f66262"/>
<rect x="140.83" y="521.44" width="1.65" height="13.34" fill="#fbb6b6"/>
<rect x="142.33" y="521.44" width="1.65" height="13.34" fill="#f99b9b"/>
<rect x="143.82" y="521.44" width="1.65" height="13.34" fill="#f43737"/>
<rect x="145.32" y="521.44" width="1.65" height="13.34" fill="#f76c6c"/>
<rect x="146.82" y="521.44" width="1.65" height="13.34" fill="#fff7f7"/>
<rect x="148.31" y="521.44" width="1.65" height="13.34" fill="#f66565"/>
<rect x="149.81" y="521.44" width="1.65" height="13.34" fill="#9fa3cf"/>
<rect x="151.31" y="521.44" width="1.65" height="13.34" fill="#fff7f7"/>
<rect x="152.80" y="521.44" width="1.65" height="13.34" fill="#e2e4f1"/>
<rect x="154.30" y="521.44" width="1.65" height="13.34" fill="#767cba"/>
<rect x="155.80" y="521.44" width="1.65" height="13.34" fill="#9ba0cd"/>
<rect x="157.29" y="521.44" width="1.65" height="13.34" fill="#6c73b5"/>
<rect x="158.79" y="521.44" width="1.65" height="13.34" fill="#757cba"/>
<rect x="160.29" y="521.44" width="1.65" height="13.34" fill="#9196c8"/>
<rect x="161.78" y="521.44" width="1.65" height="13.34" fill="#7a80bc"/>
<rect x="163.28" y="521.44" width="1.65" height="13.34" fill="#b6badb"/>
<rect x="164.78" y="521.44" width="1.65" height="13.34" fill="#adb1d6"/>
<rect x="166.27" y="521.44" width="1.65" height="13.34" fill="#5159a7"/>
<rect x="167.77" y="521.44" width="1.65" height="13.34" fill="#b7badb"/>
<rect x="169.27" y="521.44" width="1.65" height="13.34" fill="#3e479e"/>
<rect x="170.76" y="521.44" width="1.65" height="13.34" fill="#f8f8fb"/>
<rect x="172.26" y="521.44" width="1.65" height="13.34" fill="#f99292"/>
<rect x="173.76" y="521.44" width="1.65" height="13.34" fill="#f54c4c"/>
<rect x="175.25" y="521.44" width="1.65" height="13.34" fill="#b0b3d7"/>
<rect x="176.75" y="521.44" width="1.65" height="13.34" fill="#303a97"/>
<rect x="178.25" y="521.44" width="1.65" height="13.34" fill="#303a97"/>
<rect x="179.74" y="521.44" width="1.65" height="13.34" fill="#303a97"/>
<rect x="181.24" y="521.44" width="1.65" height="13.34" fill="#303a97"/>
<rect x="182.74" y="521.44" width="1.65" height="13.34" fill="#303a97"/>
<rect x="184.23" y="521.44" width="1.65" height="13.34" fill="#303a97"/>
<rect x="185.73" y="521.44" width="1.65" height="13.34" fill="#303a97"/>
<rect x="187.23" y="521.44" width="1.65" height="13.34" fill="#303a97"/>
<rect x="188.72" y="521.44" width="1.65" height="13.34" fill="#303a97"/>
<rect x="190.22" y="521.44" width="1.65" height="13.34" fill="#303a97"/>
<rect x="191.72" y="521.44" width="1.65" height="13.34" fill="#303a97"/>
<rect x="193.21" y="521.44" width="1.65" height="13.34" fill="#303a97"/>
<rect x="194.71" y="521.44" width="1.65" height="13.34" fill="#303a97"/>
<rect x="196.21" y="521.44" width="1.65" height="13.34" fill="#303a97"/>
<rect x="197.70" y="521.44" width="1.65" height="13.34" fill="#303a97"/>
<rect x="199.20" y="521.44" width="1.65" height="13.34" fill="#303a97"/>
<rect x="200.70" y="521.44" width="1.65" height="13.34" fill="#303a97"/>
<rect x="202.19" y="521.44" width="1.65" height="13.34" fill="#303a97"/>
<rect x="203.69" y="521.44" width="1.65" height="13.34" fill="#303a97"/>
<rect x="205.19" y="521.44" width="1.65" height="13.34" fill="#e9eaf4"/>
<rect x="206.68" y="521.44" width="1.65" height="13.34" fill="#303a97"/>
<rect x="208.18" y="521.44" width="1.65" height="13.34" fill="#bfc2df"/>
<rect x="209.68" y="521.44" width="1.65" height="13.34" fill="#303a97"/>
<rect x="211.17" y="521.44" width="1.65" height="13.34" fill="#303a97"/>
<rect x="212.67" y="521.44" width="1.65" height="13.34" fill="#fbbcbc"/>
<rect x="214.17" y="521.44" width="1.65" height="13.34" fill="#303a97"/>
<rect x="215.66" y="521.44" width="1.65" height="13.34" fill="#303a97"/>
<rect x="217.16" y="521.44" width="1.65" height="13.34" fill="#303a97"/>
<rect x="218.66" y="521.44" width="1.65" height="13.34" fill="#303a97"/>
<rect x="220.15" y="521.44" width="1.65" height="13.34" fill="#fee7e7"/>
<rect x="221.65" y="521.44" width="1.65" height="13.34" fill="#303a97"/>
<rect x="223.15" y="521.44" width="1.65" height="13.34" fill="#303a97"/>
<rect x="224.64" y="521.44" width="1.65" height="13.34" fill="#303a97"/>
<rect x="226.14" y="521.44" width="1.65" height="13.34" fill="#303a97"/>
<rect x="227.64" y="521.44" width="1.65" height="13.34" fill="#303a97"/>
<rect x="229.13" y="521.44" width="1.65" height="13.34" fill="#303a97"/>
<rect x="230.63" y="521.44" width="1.65" height="13.34" fill="#303a97"/>
<rect x="232.13" y="521.44" width="1.65" height="13.34" fill="#303a97"/>
<rect x="233.62" y="521.44" width="1.65" height="13.34" fill="#303a97"/>
<rect x="235.12" y="521.44" width="1.65" height="13.34" fill="#303a97"/>
<rect x="236.62" y="521.44" width="1.65" height="13.34" fill="#8a90c4"/>
<rect x="238.11" y="521.44" width="1.65" height="13.34" fill="#303a97"/>
<rect x="239.61" y="521.44" width="1.65" height="13.34" fill="#303a97"/>
<rect x="241.11" y="521.44" width="1.65" height="13.34" fill="#fcc6c6"/>
<rect x="242.60" y="521.44" width="1.65" height="13.34" fill="#303a97"/>
<rect x="244.10" y="521.44" width="1.65" height="13.34" fill="#303a97"/>
<rect x="245.60" y="521.44" width="1.65" height="13.34" fill="#fdd7d7"/>
<rect x="247.09" y="521.44" width="1.65" height="13.34" fill="#fdd6d6"/>
<rect x="248.59" y="521.44" width="1.65" height="13.34" fill="#303a97"/>
<rect x="250.09" y="521.44" width="1.65" height="13.34" fill="#303a97"/>
<rect x="251.58" y="521.44" width="1.65" height="13.34" fill="#303a97"/>
<rect x="253.08" y="521.44" width="1.65" height="13.34" fill="#303a97"/>
<rect x="254.58" y="521.44" width="1.65" height="13.34" fill="#303a97"/>
<rect x="256.07" y="521.44" width="1.65" height="13.34" fill="#303a97"/>
<rect x="257.57" y="521.44" width="1.65" height="13.34" fill="#303a97"/>
<rect x="259.07" y="521.44" width="1.65" height="13.34" fill="#303a97"/>
<rect x="260.56" y="521.44" width="1.65" height="13.34" fill="#303a97"/>
<rect x="262.06" y="521.44" width="1.65" height="13.34" fill="#303a97"/>
<rect x="263.56" y="521.44" width="1.65" height="13.34" fill="#a6aad2"/>
<rect x="265.05" y="521.44" width="1.65" height="13.34" fill="#303a97"/>
<rect x="266.55" y="521.44" width="1.65" height="13.34" fill="#303a97"/>
<rect x="268.05" y="521.44" width="1.65" height="13.34" fill="#303a97"/>
<rect x="269.54" y="521.44" width="1.65" height="13.34" fill="#303a97"/>
<rect x="271.04" y="521.44" width="1.65" height="13.34" fill="#303a97"/>
<rect x="272.54" y="521.44" width="1.65" height="13.34" fill="#303a97"/>
<rect x="274.03" y="521.44" width="1.65" height="13.34" fill="#303a97"/>
<rect x="275.53" y="521.44" width="1.65" height="13.34" fill="#afb3d7"/>
<rect x="277.03" y="521.44" width="1.65" height="13.34" fill="#fef1f1"/>
<rect x="278.52" y="521.44" width="1.65" height="13.34" fill="#303a97"/>
<rect x="280.02" y="521.44" width="1.65" height="13.34" fill="#303a97"/>
<rect x="281.52" y="521.44" width="1.65" height="13.34" fill="#303a97"/>
<rect x="283.01" y="521.44" width="1.65" height="13.34" fill="#303a97"/>
<rect x="284.51" y="521.44" width="1.65" height="13.34" fill="#303a97"/>
<rect x="286.01" y="521.44" width="1.65" height="13.34" fill="#303a97"/>
<rect x="287.50" y="521.44" width="1.65" height="13.34" fill="#303a97"/>
<text x="59.70" y="544.95" font-size="10.4" text-anchor="end" fill="#222">RepID</text>
<rect x="64.50" y="534.58" width="1.65" height="13.34" fill="#fcd0d0"/>
<rect x="66.00" y="534.58" width="1.65" height="13.34" fill="#fffefe"/>
<rect x="67.49" y="534.58" width="1.65" height="13.34" fill="#fbbcbc"/>
<rect x="68.99" y="534.58" width="1.65" height="13.34" fill="#f43131"/>
<rect x="70.49" y="534.58" width="1.65" height="13.34" fill="#feecec"/>
<rect x="71.98" y="534.58" width="1.65" height="13.34" fill="#ececf5"/>
<rect x="73.48" y="534.58" width="1.65" height="13.34" fill="#faa4a4"/>
<rect x="74.98" y="534.58" width="1.65" height="13.34" fill="#f44040"/>
<rect x="76.47" y="534.58" width="1.65" height="13.34" fill="#fa9e9e"/>
<rect x="77.97" y="534.58" width="1.65" height="13.34" fill="#f33030"/>
<rect x="79.47" y="534.58" width="1.65" height="13.34" fill="#8e93c6"/>
<rect x="80.96" y="534.58" width="1.65" height="13.34" fill="#f99292"/>
<rect x="82.46" y="534.58" width="1.65" height="13.34" fill="#f76e6e"/>
<rect x="83.96" y="534.58" width="1.65" height="13.34" fill="#f77070"/>
<rect x="85.45" y="534.58" width="1.65" height="13.34" fill="#f21c1c"/>
<rect x="86.95" y="534.58" width="1.65" height="13.34" fill="#7c82bd"/>
<rect x="88.45" y="534.58" width="1.65" height="13.34" fill="#f21c1c"/>
<rect x="89.94" y="534.58" width="1.65" height="13.34" fill="#f87f7f"/>
<rect x="91.44" y="534.58" width="1.65" height="13.34" fill="#f87b7b"/>
<rect x="92.94" y="534.58" width="1.65" height="13.34" fill="#ffffff"/>
<rect x="94.43" y="534.58" width="1.65" height="13.34" fill="#f76767"/>
<rect x="95.93" y="534.58" width="1.65" height="13.34" fill="#f98e8e"/>
<rect x="97.43" y="534.58" width="1.65" height="13.34" fill="#f77878"/>
<rect x="98.92" y="534.58" width="1.65" height="13.34" fill="#fbb5b5"/>
<rect x="100.42" y="534.58" width="1.65" height="13.34" fill="#f99393"/>
<rect x="101.92" y="534.58" width="1.65" height="13.34" fill="#fffbfb"/>
<rect x="103.41" y="534.58" width="1.65" height="13.34" fill="#8c91c5"/>
<rect x="104.91" y="534.58" width="1.65" height="13.34" fill="#fccaca"/>
<rect x="106.41" y="534.58" width="1.65" height="13.34" fill="#e9eaf4"/>
<rect x="107.90" y="534.58" width="1.65" height="13.34" fill="#40499f"/>
<rect x="109.40" y="534.58" width="1.65" height="13.34" fill="#feebeb"/>
<rect x="110.90" y="534.58" width="1.65" height="13.34" fill="#f33131"/>
<rect x="112.39" y="534.58" width="1.65" height="13.34" fill="#888dc3"/>
<rect x="113.89" y="534.58" width="1.65" height="13.34" fill="#fdd3d3"/>
<rect x="115.39" y="534.58" width="1.65" height="13.34" fill="#f66464"/>
<rect x="116.88" y="534.58" width="1.65" height="13.34" fill="#fcd0d0"/>
<rect x="118.38" y="534.58" width="1.65" height="13.34" fill="#a5a9d2"/>
<rect x="119.88" y="534.58" width="1.65" height="13.34" fill="#fcc8c8"/>
<rect x="121.37" y="534.58" width="1.65" height="13.34" fill="#fde4e4"/>
<rect x="122.87" y="534.58" width="1.65" height="13.34" fill="#fbb4b4"/>
<rect x="124.37" y="534.58" width="1.65" height="13.34" fill="#f87e7e"/>
<rect x="125.86" y="534.58" width="1.65" height="13.34" fill="#f33131"/>
<rect x="127.36" y="534.58" width="1.65" height="13.34" fill="#feeded"/>
<rect x="128.86" y="534.58" width="1.65" height="13.34" fill="#fee6e6"/>
<rect x="130.35" y="534.58" width="1.65" height="13.34" fill="#c0c3df"/>
<rect x="131.85" y="534.58" width="1.65" height="13.34" fill="#9a9ecc"/>
<rect x="133.35" y="534.58" width="1.65" height="13.34" fill="#fffafa"/>
<rect x="134.84" y="534.58" width="1.65" height="13.34" fill="#c8cae3"/>
<rect x="136.34" y="534.58" width="1.65" height="13.34" fill="#dfe1ef"/>
<rect x="137.84" y="534.58" width="1.65" height="13.34" fill="#f98e8e"/>
<rect x="139.33" y="534.58" width="1.65" height="13.34" fill="#d9dbec"/>
<rect x="140.83" y="534.58" width="1.65" height="13.34" fill="#fbbcbc"/>
<rect x="142.33" y="534.58" width="1.65" height="13.34" fill="#636ab1"/>
<rect x="143.82" y="534.58" width="1.65" height="13.34" fill="#9095c7"/>
<rect x="145.32" y="534.58" width="1.65" height="13.34" fill="#868cc2"/>
<rect x="146.82" y="534.58" width="1.65" height="13.34" fill="#363f9a"/>
<rect x="148.31" y="534.58" width="1.65" height="13.34" fill="#e0e1ef"/>
<rect x="149.81" y="534.58" width="1.65" height="13.34" fill="#575fab"/>
<rect x="151.31" y="534.58" width="1.65" height="13.34" fill="#2c3695"/>
<rect x="152.80" y="534.58" width="1.65" height="13.34" fill="#f98d8d"/>
<rect x="154.30" y="534.58" width="1.65" height="13.34" fill="#9196c8"/>
<rect x="155.80" y="534.58" width="1.65" height="13.34" fill="#555daa"/>
<rect x="157.29" y="534.58" width="1.65" height="13.34" fill="#6f76b7"/>
<rect x="158.79" y="534.58" width="1.65" height="13.34" fill="#3c459d"/>
<rect x="160.29" y="534.58" width="1.65" height="13.34" fill="#4850a3"/>
<rect x="161.78" y="534.58" width="1.65" height="13.34" fill="#b6b9da"/>
<rect x="163.28" y="534.58" width="1.65" height="13.34" fill="#f76e6e"/>
<rect x="164.78" y="534.58" width="1.65" height="13.34" fill="#babedd"/>
<rect x="166.27" y="534.58" width="1.65" height="13.34" fill="#525aa8"/>
<rect x="167.77" y="534.58" width="1.65" height="13.34" fill="#fcc1c1"/>
<rect x="169.27" y="534.58" width="1.65" height="13.34" fill="#fef4f4"/>
<rect x="170.76" y="534.58" width="1.65" height="13.34" fill="#fffcfc"/>
<rect x="172.26" y="534.58" width="1.65" height="13.34" fill="#3e479e"/>
<rect x="173.76" y="534.58" width="1.65" height="13.34" fill="#767cba"/>
<rect x="175.25" y="534.58" width="1.65" height="13.34" fill="#9398c9"/>
<rect x="176.75" y="534.58" width="1.65" height="13.34" fill="#fcc7c7"/>
<rect x="178.25" y="534.58" width="1.65" height="13.34" fill="#2e3896"/>
<rect x="179.74" y="534.58" width="1.65" height="13.34" fill="#f76969"/>
<rect x="181.24" y="534.58" width="1.65" height="13.34" fill="#575fab"/>
<rect x="182.74" y="534.58" width="1.65" height="13.34" fill="#ebecf5"/>
<rect x="184.23" y="534.58" width="1.65" height="13.34" fill="#fccfcf"/>
<rect x="185.73" y="534.58" width="1.65" height="13.34" fill="#f43f3f"/>
<rect x="187.23" y="534.58" width="1.65" height="13.34" fill="#3c459d"/>
<rect x="188.72" y="534.58" width="1.65" height="13.34" fill="#9499c9"/>
<rect x="190.22" y="534.58" width="1.65" height="13.34" fill="#555daa"/>
<rect x="191.72" y="534.58" width="1.65" height="13.34" fill="#f1f2f8"/>
<rect x="193.21" y="534.58" width="1.65" height="13.34" fill="#8288c0"/>
<rect x="194.71" y="534.58" width="1.65" height="13.34" fill="#f6f6fa"/>
<rect x="196.21" y="534.58" width="1.65" height="13.34" fill="#c5c8e2"/>
<rect x="197.70" y="534.58" width="1.65" height="13.34" fill="#f43131"/>
<rect x="199.20" y="534.58" width="1.65" height="13.34" fill="#fcc2c2"/>
<rect x="200.70" y="534.58" width="1.65" height="13.34" fill="#e1e2f0"/>
<rect x="202.19" y="534.58" width="1.65" height="13.34" fill="#464fa2"/>
<rect x="203.69" y="534.58" width="1.65" height="13.34" fill="#fbbfbf"/>
<rect x="205.19" y="534.58" width="1.65" height="13.34" fill="#a3a7d1"/>
<rect x="206.68" y="534.58" width="1.65" height="13.34" fill="#b2b6d8"/>
<rect x="208.18" y="534.58" width="1.65" height="13.34" fill="#7c82bd"/>
<rect x="209.68" y="534.58" width="1.65" height="13.34" fill="#313b98"/>
<rect x="211.17" y="534.58" width="1.65" height="13.34" fill="#6d74b6"/>
<rect x="212.67" y="534.58" width="1.65" height="13.34" fill="#8a90c4"/>
<rect x="214.17" y="534.58" width="1.65" height="13.34" fill="#c5c8e2"/>
<rect x="215.66" y="534.58" width="1.65" height="13.34" fill="#3d469e"/>
<rect x="217.16" y="534.58" width="1.65" height="13.34" fill="#5d65ae"/>
<rect x="218.66" y="534.58" width="1.65" height="13.34" fill="#fddede"/>
<rect x="220.15" y="534.58" width="1.65" height="13.34" fill="#5159a7"/>
<rect x="221.65" y="534.58" width="1.65" height="13.34" fill="#575fab"/>
<rect x="223.15" y="534.58" width="1.65" height="13.34" fill="#656cb2"/>
<rect x="224.64" y="534.58" width="1.65" height="13.34" fill="#d4d6e9"/>
<rect x="226.14" y="534.58" width="1.65" height="13.34" fill="#fcc6c6"/>
<rect x="227.64" y="534.58" width="1.65" height="13.34" fill="#4b53a4"/>
<rect x="229.13" y="534.58" width="1.65" height="13.34" fill="#bfc2df"/>
<rect x="230.63" y="534.58" width="1.65" height="13.34" fill="#3f489e"/>
<rect x="232.13" y="534.58" width="1.65" height="13.34" fill="#faaaaa"/>
<rect x="233.62" y="534.58" width="1.65" height="13.34" fill="#faaaaa"/>
<rect x="235.12" y="534.58" width="1.65" height="13.34" fill="#f98f8f"/>
<rect x="236.62" y="534.58" width="1.65" height="13.34" fill="#fcc9c9"/>
<rect x="238.11" y="534.58" width="1.65" height="13.34" fill="#686fb3"/>
<rect x="239.61" y="534.58" width="1.65" height="13.34" fill="#f66464"/>
<rect x="241.11" y="534.58" width="1.65" height="13.34" fill="#f88282"/>
<rect x="242.60" y="534.58" width="1.65" height="13.34" fill="#f98c8c"/>
<rect x="244.10" y="534.58" width="1.65" height="13.34" fill="#3d469d"/>
<rect x="245.60" y="534.58" width="1.65" height="13.34" fill="#feeded"/>
<rect x="247.09" y="534.58" width="1.65" height="13.34" fill="#4a53a4"/>
<rect x="248.59" y="534.58" width="1.65" height="13.34" fill="#f99191"/>
<rect x="250.09" y="534.58" width="1.65" height="13.34" fill="#f77070"/>
<rect x="251.58" y="534.58" width="1.65" height="13.34" fill="#a9add4"/>
<rect x="253.08" y="534.58" width="1.65" height="13.34" fill="#2d3796"/>
<rect x="254.58" y="534.58" width="1.65" height="13.34" fill="#f54545"/>
<rect x="256.07" y="534.58" width="1.65" height="13.34" fill="#7177b7"/>
<rect x="257.57" y="534.58" width="1.65" height="13.34" fill="#bfc2df"/>
<rect x="259.07" y="534.58" width="1.65" height="13.34" fill="#f32222"/>
<rect x="260.56" y="534.58" width="1.65" height="13.34" fill="#aaaed4"/>
<rect x="262.06" y="534.58" width="1.65" height="13.34" fill="#4f57a7"/>
<rect x="263.56" y="534.58" width="1.65" height="13.34" fill="#faa0a0"/>
<rect x="265.05" y="534.58" width="1.65" height="13.34" fill="#fee6e6"/>
<rect x="266.55" y="534.58" width="1.65" height="13.34" fill="#969bca"/>
<rect x="268.05" y="534.58" width="1.65" height="13.34" fill="#fddada"/>
<rect x="269.54" y="534.58" width="1.65" height="13.34" fill="#fff8f8"/>
<rect x="271.04" y="534.58" width="1.65" height="13.34" fill="#f43a3a"/>
<rect x="272.54" y="534.58" width="1.65" height="13.34" fill="#f32323"/>
<rect x="274.03" y="534.58" width="1.65" height="13.34" fill="#e6e7f2"/>
<rect x="275.53" y="534.58" width="1.65" height="13.34" fill="#f99090"/>
<rect x="277.03" y="534.58" width="1.65" height="13.34" fill="#fde3e3"/>
<rect x="278.52" y="534.58" width="1.65" height="13.34" fill="#faaeae"/>
<rect x="280.02" y="534.58" width="1.65" height="13.34" fill="#fef3f3"/>
<rect x="281.52" y="534.58" width="1.65" height="13.34" fill="#f99595"/>
<rect x="283.01" y="534.58" width="1.65" height="13.34" fill="#c0c3e0"/>
<rect x="284.51" y="534.58" width="1.65" height="13.34" fill="#f76e6e"/>
<rect x="286.01" y="534.58" width="1.65" height="13.34" fill="#8a90c4"/>
<rect x="287.50" y="534.58" width="1.65" height="13.34" fill="#7178b8"/>
<text x="59.70" y="558.09" font-size="10.4" text-anchor="end" fill="#222">DCAF16</text>
<rect x="64.50" y="547.72" width="1.65" height="13.34" fill="#f99191"/>
<rect x="66.00" y="547.72" width="1.65" height="13.34" fill="#9398c9"/>
<rect x="67.49" y="547.72" width="1.65" height="13.34" fill="#fbb6b6"/>
<rect x="68.99" y="547.72" width="1.65" height="13.34" fill="#f54b4b"/>
<rect x="70.49" y="547.72" width="1.65" height="13.34" fill="#f98f8f"/>
<rect x="71.98" y="547.72" width="1.65" height="13.34" fill="#fcc4c4"/>
<rect x="73.48" y="547.72" width="1.65" height="13.34" fill="#fbb4b4"/>
<rect x="74.98" y="547.72" width="1.65" height="13.34" fill="#f77575"/>
<rect x="76.47" y="547.72" width="1.65" height="13.34" fill="#d8daec"/>
<rect x="77.97" y="547.72" width="1.65" height="13.34" fill="#fddede"/>
<rect x="79.47" y="547.72" width="1.65" height="13.34" fill="#f99898"/>
<rect x="80.96" y="547.72" width="1.65" height="13.34" fill="#5860ab"/>
<rect x="82.46" y="547.72" width="1.65" height="13.34" fill="#4c55a5"/>
<rect x="83.96" y="547.72" width="1.65" height="13.34" fill="#f43d3d"/>
<rect x="85.45" y="547.72" width="1.65" height="13.34" fill="#f21e1e"/>
<rect x="86.95" y="547.72" width="1.65" height="13.34" fill="#f99b9b"/>
<rect x="88.45" y="547.72" width="1.65" height="13.34" fill="#f77575"/>
<rect x="89.94" y="547.72" width="1.65" height="13.34" fill="#fbc0c0"/>
<rect x="91.44" y="547.72" width="1.65" height="13.34" fill="#f87979"/>
<rect x="92.94" y="547.72" width="1.65" height="13.34" fill="#f21a1a"/>
<rect x="94.43" y="547.72" width="1.65" height="13.34" fill="#fbb1b1"/>
<rect x="95.93" y="547.72" width="1.65" height="13.34" fill="#f87979"/>
<rect x="97.43" y="547.72" width="1.65" height="13.34" fill="#aeb2d6"/>
<rect x="98.92" y="547.72" width="1.65" height="13.34" fill="#fbb9b9"/>
<rect x="100.42" y="547.72" width="1.65" height="13.34" fill="#5b63ad"/>
<rect x="101.92" y="547.72" width="1.65" height="13.34" fill="#f32020"/>
<rect x="103.41" y="547.72" width="1.65" height="13.34" fill="#c3c6e1"/>
<rect x="104.91" y="547.72" width="1.65" height="13.34" fill="#eff0f7"/>
<rect x="106.41" y="547.72" width="1.65" height="13.34" fill="#f88383"/>
<rect x="107.90" y="547.72" width="1.65" height="13.34" fill="#fbb9b9"/>
<rect x="109.40" y="547.72" width="1.65" height="13.34" fill="#f88080"/>
<rect x="110.90" y="547.72" width="1.65" height="13.34" fill="#3c469d"/>
<rect x="112.39" y="547.72" width="1.65" height="13.34" fill="#4951a4"/>
<rect x="113.89" y="547.72" width="1.65" height="13.34" fill="#f43333"/>
<rect x="115.39" y="547.72" width="1.65" height="13.34" fill="#6a71b4"/>
<rect x="116.88" y="547.72" width="1.65" height="13.34" fill="#f76c6c"/>
<rect x="118.38" y="547.72" width="1.65" height="13.34" fill="#f32323"/>
<rect x="119.88" y="547.72" width="1.65" height="13.34" fill="#f87e7e"/>
<rect x="121.37" y="547.72" width="1.65" height="13.34" fill="#2f3896"/>
<rect x="122.87" y="547.72" width="1.65" height="13.34" fill="#f43535"/>
<rect x="124.37" y="547.72" width="1.65" height="13.34" fill="#c4c7e2"/>
<rect x="125.86" y="547.72" width="1.65" height="13.34" fill="#fbafaf"/>
<rect x="127.36" y="547.72" width="1.65" height="13.34" fill="#5059a7"/>
<rect x="128.86" y="547.72" width="1.65" height="13.34" fill="#fcc7c7"/>
<rect x="130.35" y="547.72" width="1.65" height="13.34" fill="#f98d8d"/>
<rect x="131.85" y="547.72" width="1.65" height="13.34" fill="#868cc2"/>
<rect x="133.35" y="547.72" width="1.65" height="13.34" fill="#f54444"/>
<rect x="134.84" y="547.72" width="1.65" height="13.34" fill="#f98c8c"/>
<rect x="136.34" y="547.72" width="1.65" height="13.34" fill="#f43e3e"/>
<rect x="137.84" y="547.72" width="1.65" height="13.34" fill="#898ec3"/>
<rect x="139.33" y="547.72" width="1.65" height="13.34" fill="#2e3796"/>
<rect x="140.83" y="547.72" width="1.65" height="13.34" fill="#f76c6c"/>
<rect x="142.33" y="547.72" width="1.65" height="13.34" fill="#b8bcdb"/>
<rect x="143.82" y="547.72" width="1.65" height="13.34" fill="#dfe1ef"/>
<rect x="145.32" y="547.72" width="1.65" height="13.34" fill="#fefeff"/>
<rect x="146.82" y="547.72" width="1.65" height="13.34" fill="#454ea2"/>
<rect x="148.31" y="547.72" width="1.65" height="13.34" fill="#989dcb"/>
<rect x="149.81" y="547.72" width="1.65" height="13.34" fill="#9da2ce"/>
<rect x="151.31" y="547.72" width="1.65" height="13.34" fill="#5b63ad"/>
<rect x="152.80" y="547.72" width="1.65" height="13.34" fill="#f87e7e"/>
<rect x="154.30" y="547.72" width="1.65" height="13.34" fill="#363f9a"/>
<rect x="155.80" y="547.72" width="1.65" height="13.34" fill="#f43e3e"/>
<rect x="157.29" y="547.72" width="1.65" height="13.34" fill="#fbafaf"/>
<rect x="158.79" y="547.72" width="1.65" height="13.34" fill="#f65f5f"/>
<rect x="160.29" y="547.72" width="1.65" height="13.34" fill="#f21919"/>
<rect x="161.78" y="547.72" width="1.65" height="13.34" fill="#bdc0de"/>
<rect x="163.28" y="547.72" width="1.65" height="13.34" fill="#faabab"/>
<rect x="164.78" y="547.72" width="1.65" height="13.34" fill="#f76868"/>
<rect x="166.27" y="547.72" width="1.65" height="13.34" fill="#6d74b5"/>
<rect x="167.77" y="547.72" width="1.65" height="13.34" fill="#f77575"/>
<rect x="169.27" y="547.72" width="1.65" height="13.34" fill="#8f94c6"/>
<rect x="170.76" y="547.72" width="1.65" height="13.34" fill="#a8acd3"/>
<rect x="172.26" y="547.72" width="1.65" height="13.34" fill="#3c459d"/>
<rect x="173.76" y="547.72" width="1.65" height="13.34" fill="#565eaa"/>
<rect x="175.25" y="547.72" width="1.65" height="13.34" fill="#eff0f7"/>
<rect x="176.75" y="547.72" width="1.65" height="13.34" fill="#4850a3"/>
<rect x="178.25" y="547.72" width="1.65" height="13.34" fill="#f99191"/>
<rect x="179.74" y="547.72" width="1.65" height="13.34" fill="#f32929"/>
<rect x="181.24" y="547.72" width="1.65" height="13.34" fill="#e9eaf4"/>
<rect x="182.74" y="547.72" width="1.65" height="13.34" fill="#fbbaba"/>
<rect x="184.23" y="547.72" width="1.65" height="13.34" fill="#dddeee"/>
<rect x="185.73" y="547.72" width="1.65" height="13.34" fill="#8b91c5"/>
<rect x="187.23" y="547.72" width="1.65" height="13.34" fill="#39439c"/>
<rect x="188.72" y="547.72" width="1.65" height="13.34" fill="#fdd2d2"/>
<rect x="190.22" y="547.72" width="1.65" height="13.34" fill="#b2b6d8"/>
<rect x="191.72" y="547.72" width="1.65" height="13.34" fill="#f88989"/>
<rect x="193.21" y="547.72" width="1.65" height="13.34" fill="#f99a9a"/>
<rect x="194.71" y="547.72" width="1.65" height="13.34" fill="#8187c0"/>
<rect x="196.21" y="547.72" width="1.65" height="13.34" fill="#6269b0"/>
<rect x="197.70" y="547.72" width="1.65" height="13.34" fill="#6d74b6"/>
<rect x="199.20" y="547.72" width="1.65" height="13.34" fill="#f43a3a"/>
<rect x="200.70" y="547.72" width="1.65" height="13.34" fill="#3a439c"/>
<rect x="202.19" y="547.72" width="1.65" height="13.34" fill="#feeeee"/>
<rect x="203.69" y="547.72" width="1.65" height="13.34" fill="#f87d7d"/>
<rect x="205.19" y="547.72" width="1.65" height="13.34" fill="#f99898"/>
<rect x="206.68" y="547.72" width="1.65" height="13.34" fill="#f65757"/>
<rect x="208.18" y="547.72" width="1.65" height="13.34" fill="#4851a3"/>
<rect x="209.68" y="547.72" width="1.65" height="13.34" fill="#f88484"/>
<rect x="211.17" y="547.72" width="1.65" height="13.34" fill="#464ea2"/>
<rect x="212.67" y="547.72" width="1.65" height="13.34" fill="#f99898"/>
<rect x="214.17" y="547.72" width="1.65" height="13.34" fill="#7c82bd"/>
<rect x="215.66" y="547.72" width="1.65" height="13.34" fill="#faa9a9"/>
<rect x="217.16" y="547.72" width="1.65" height="13.34" fill="#fff8f8"/>
<rect x="218.66" y="547.72" width="1.65" height="13.34" fill="#38419b"/>
<rect x="220.15" y="547.72" width="1.65" height="13.34" fill="#f54848"/>
<rect x="221.65" y="547.72" width="1.65" height="13.34" fill="#e3e5f1"/>
<rect x="223.15" y="547.72" width="1.65" height="13.34" fill="#f21e1e"/>
<rect x="224.64" y="547.72" width="1.65" height="13.34" fill="#f65d5d"/>
<rect x="226.14" y="547.72" width="1.65" height="13.34" fill="#f77575"/>
<rect x="227.64" y="547.72" width="1.65" height="13.34" fill="#bfc2df"/>
<rect x="229.13" y="547.72" width="1.65" height="13.34" fill="#f99999"/>
<rect x="230.63" y="547.72" width="1.65" height="13.34" fill="#4851a3"/>
<rect x="232.13" y="547.72" width="1.65" height="13.34" fill="#f32626"/>
<rect x="233.62" y="547.72" width="1.65" height="13.34" fill="#f43333"/>
<rect x="235.12" y="547.72" width="1.65" height="13.34" fill="#f32929"/>
<rect x="236.62" y="547.72" width="1.65" height="13.34" fill="#d4d6e9"/>
<rect x="238.11" y="547.72" width="1.65" height="13.34" fill="#f65f5f"/>
<rect x="239.61" y="547.72" width="1.65" height="13.34" fill="#fcc6c6"/>
<rect x="241.11" y="547.72" width="1.65" height="13.34" fill="#f55454"/>
<rect x="242.60" y="547.72" width="1.65" height="13.34" fill="#f76767"/>
<rect x="244.10" y="547.72" width="1.65" height="13.34" fill="#f98b8b"/>
<rect x="245.60" y="547.72" width="1.65" height="13.34" fill="#fcc4c4"/>
<rect x="247.09" y="547.72" width="1.65" height="13.34" fill="#f76969"/>
<rect x="248.59" y="547.72" width="1.65" height="13.34" fill="#babddc"/>
<rect x="250.09" y="547.72" width="1.65" height="13.34" fill="#faa4a4"/>
<rect x="251.58" y="547.72" width="1.65" height="13.34" fill="#bbbfdd"/>
<rect x="253.08" y="547.72" width="1.65" height="13.34" fill="#c6c9e2"/>
<rect x="254.58" y="547.72" width="1.65" height="13.34" fill="#646bb1"/>
<rect x="256.07" y="547.72" width="1.65" height="13.34" fill="#868cc2"/>
<rect x="257.57" y="547.72" width="1.65" height="13.34" fill="#424ba0"/>
<rect x="259.07" y="547.72" width="1.65" height="13.34" fill="#4b54a5"/>
<rect x="260.56" y="547.72" width="1.65" height="13.34" fill="#f32f2f"/>
<rect x="262.06" y="547.72" width="1.65" height="13.34" fill="#454ea2"/>
<rect x="263.56" y="547.72" width="1.65" height="13.34" fill="#f77878"/>
<rect x="265.05" y="547.72" width="1.65" height="13.34" fill="#f0f1f8"/>
<rect x="266.55" y="547.72" width="1.65" height="13.34" fill="#f99191"/>
<rect x="268.05" y="547.72" width="1.65" height="13.34" fill="#b0b4d7"/>
<rect x="269.54" y="547.72" width="1.65" height="13.34" fill="#f65d5d"/>
<rect x="271.04" y="547.72" width="1.65" height="13.34" fill="#303997"/>
<rect x="272.54" y="547.72" width="1.65" height="13.34" fill="#3c459d"/>
<rect x="274.03" y="547.72" width="1.65" height="13.34" fill="#fff8f8"/>
<rect x="275.53" y="547.72" width="1.65" height="13.34" fill="#e6e7f3"/>
<rect x="277.03" y="547.72" width="1.65" height="13.34" fill="#f65a5a"/>
<rect x="278.52" y="547.72" width="1.65" height="13.34" fill="#f54e4e"/>
<rect x="280.02" y="547.72" width="1.65" height="13.34" fill="#f77272"/>
<rect x="281.52" y="547.72" width="1.65" height="13.34" fill="#f55454"/>
<rect x="283.01" y="547.72" width="1.65" height="13.34" fill="#dddfee"/>
<rect x="284.51" y="547.72" width="1.65" height="13.34" fill="#9ea3ce"/>
<rect x="286.01" y="547.72" width="1.65" height="13.34" fill="#d6d8ea"/>
<rect x="287.50" y="547.72" width="1.65" height="13.34" fill="#cdcfe6"/>
<text x="59.70" y="571.23" font-size="10.4" text-anchor="end" fill="#222">DCAF12</text>
<rect x="64.50" y="560.86" width="1.65" height="13.34" fill="#f77373"/>
<rect x="66.00" y="560.86" width="1.65" height="13.34" fill="#f77171"/>
<rect x="67.49" y="560.86" width="1.65" height="13.34" fill="#fbb2b2"/>
<rect x="68.99" y="560.86" width="1.65" height="13.34" fill="#cacce4"/>
<rect x="70.49" y="560.86" width="1.65" height="13.34" fill="#fdd8d8"/>
<rect x="71.98" y="560.86" width="1.65" height="13.34" fill="#fbb0b0"/>
<rect x="73.48" y="560.86" width="1.65" height="13.34" fill="#f87b7b"/>
<rect x="74.98" y="560.86" width="1.65" height="13.34" fill="#3e479e"/>
<rect x="76.47" y="560.86" width="1.65" height="13.34" fill="#bfc2df"/>
<rect x="77.97" y="560.86" width="1.65" height="13.34" fill="#fdd3d3"/>
<rect x="79.47" y="560.86" width="1.65" height="13.34" fill="#f21919"/>
<rect x="80.96" y="560.86" width="1.65" height="13.34" fill="#f21d1d"/>
<rect x="82.46" y="560.86" width="1.65" height="13.34" fill="#434ba0"/>
<rect x="83.96" y="560.86" width="1.65" height="13.34" fill="#b5b8da"/>
<rect x="85.45" y="560.86" width="1.65" height="13.34" fill="#f88080"/>
<rect x="86.95" y="560.86" width="1.65" height="13.34" fill="#424ba0"/>
<rect x="88.45" y="560.86" width="1.65" height="13.34" fill="#535ba9"/>
<rect x="89.94" y="560.86" width="1.65" height="13.34" fill="#3f489f"/>
<rect x="91.44" y="560.86" width="1.65" height="13.34" fill="#f32323"/>
<rect x="92.94" y="560.86" width="1.65" height="13.34" fill="#f98e8e"/>
<rect x="94.43" y="560.86" width="1.65" height="13.34" fill="#f88585"/>
<rect x="95.93" y="560.86" width="1.65" height="13.34" fill="#f99b9b"/>
<rect x="97.43" y="560.86" width="1.65" height="13.34" fill="#f32020"/>
<rect x="98.92" y="560.86" width="1.65" height="13.34" fill="#fcc8c8"/>
<rect x="100.42" y="560.86" width="1.65" height="13.34" fill="#f43939"/>
<rect x="101.92" y="560.86" width="1.65" height="13.34" fill="#f66363"/>
<rect x="103.41" y="560.86" width="1.65" height="13.34" fill="#edeef6"/>
<rect x="104.91" y="560.86" width="1.65" height="13.34" fill="#7d83be"/>
<rect x="106.41" y="560.86" width="1.65" height="13.34" fill="#fccaca"/>
<rect x="107.90" y="560.86" width="1.65" height="13.34" fill="#f21717"/>
<rect x="109.40" y="560.86" width="1.65" height="13.34" fill="#f1f2f8"/>
<rect x="110.90" y="560.86" width="1.65" height="13.34" fill="#515aa8"/>
<rect x="112.39" y="560.86" width="1.65" height="13.34" fill="#8086bf"/>
<rect x="113.89" y="560.86" width="1.65" height="13.34" fill="#f43c3c"/>
<rect x="115.39" y="560.86" width="1.65" height="13.34" fill="#f99c9c"/>
<rect x="116.88" y="560.86" width="1.65" height="13.34" fill="#c5c8e2"/>
<rect x="118.38" y="560.86" width="1.65" height="13.34" fill="#5058a7"/>
<rect x="119.88" y="560.86" width="1.65" height="13.34" fill="#fbbbbb"/>
<rect x="121.37" y="560.86" width="1.65" height="13.34" fill="#fee8e8"/>
<rect x="122.87" y="560.86" width="1.65" height="13.34" fill="#fbb9b9"/>
<rect x="124.37" y="560.86" width="1.65" height="13.34" fill="#faa1a1"/>
<rect x="125.86" y="560.86" width="1.65" height="13.34" fill="#f6f7fb"/>
<rect x="127.36" y="560.86" width="1.65" height="13.34" fill="#f32727"/>
<rect x="128.86" y="560.86" width="1.65" height="13.34" fill="#f99494"/>
<rect x="130.35" y="560.86" width="1.65" height="13.34" fill="#c2c5e0"/>
<rect x="131.85" y="560.86" width="1.65" height="13.34" fill="#f87f7f"/>
<rect x="133.35" y="560.86" width="1.65" height="13.34" fill="#f87f7f"/>
<rect x="134.84" y="560.86" width="1.65" height="13.34" fill="#f65a5a"/>
<rect x="136.34" y="560.86" width="1.65" height="13.34" fill="#d9dbec"/>
<rect x="137.84" y="560.86" width="1.65" height="13.34" fill="#fcfcfd"/>
<rect x="139.33" y="560.86" width="1.65" height="13.34" fill="#f32020"/>
<rect x="140.83" y="560.86" width="1.65" height="13.34" fill="#faa1a1"/>
<rect x="142.33" y="560.86" width="1.65" height="13.34" fill="#f55151"/>
<rect x="143.82" y="560.86" width="1.65" height="13.34" fill="#9fa3cf"/>
<rect x="145.32" y="560.86" width="1.65" height="13.34" fill="#f98e8e"/>
<rect x="146.82" y="560.86" width="1.65" height="13.34" fill="#f55050"/>
<rect x="148.31" y="560.86" width="1.65" height="13.34" fill="#ecedf5"/>
<rect x="149.81" y="560.86" width="1.65" height="13.34" fill="#f8f8fb"/>
<rect x="151.31" y="560.86" width="1.65" height="13.34" fill="#979ccb"/>
<rect x="152.80" y="560.86" width="1.65" height="13.34" fill="#f32626"/>
<rect x="154.30" y="560.86" width="1.65" height="13.34" fill="#f66262"/>
<rect x="155.80" y="560.86" width="1.65" height="13.34" fill="#f99292"/>
<rect x="157.29" y="560.86" width="1.65" height="13.34" fill="#f43a3a"/>
<rect x="158.79" y="560.86" width="1.65" height="13.34" fill="#f65f5f"/>
<rect x="160.29" y="560.86" width="1.65" height="13.34" fill="#3f489f"/>
<rect x="161.78" y="560.86" width="1.65" height="13.34" fill="#f65656"/>
<rect x="163.28" y="560.86" width="1.65" height="13.34" fill="#feebeb"/>
<rect x="164.78" y="560.86" width="1.65" height="13.34" fill="#444da1"/>
<rect x="166.27" y="560.86" width="1.65" height="13.34" fill="#f88888"/>
<rect x="167.77" y="560.86" width="1.65" height="13.34" fill="#f32828"/>
<rect x="169.27" y="560.86" width="1.65" height="13.34" fill="#959aca"/>
<rect x="170.76" y="560.86" width="1.65" height="13.34" fill="#f32f2f"/>
<rect x="172.26" y="560.86" width="1.65" height="13.34" fill="#6f76b7"/>
<rect x="173.76" y="560.86" width="1.65" height="13.34" fill="#6d74b6"/>
<rect x="175.25" y="560.86" width="1.65" height="13.34" fill="#faa8a8"/>
<rect x="176.75" y="560.86" width="1.65" height="13.34" fill="#fbb3b3"/>
<rect x="178.25" y="560.86" width="1.65" height="13.34" fill="#f43f3f"/>
<rect x="179.74" y="560.86" width="1.65" height="13.34" fill="#a8acd3"/>
<rect x="181.24" y="560.86" width="1.65" height="13.34" fill="#525aa8"/>
<rect x="182.74" y="560.86" width="1.65" height="13.34" fill="#f7f7fb"/>
<rect x="184.23" y="560.86" width="1.65" height="13.34" fill="#787ebb"/>
<rect x="185.73" y="560.86" width="1.65" height="13.34" fill="#f55050"/>
<rect x="187.23" y="560.86" width="1.65" height="13.34" fill="#4a53a4"/>
<rect x="188.72" y="560.86" width="1.65" height="13.34" fill="#2c3695"/>
<rect x="190.22" y="560.86" width="1.65" height="13.34" fill="#f99393"/>
<rect x="191.72" y="560.86" width="1.65" height="13.34" fill="#b7badb"/>
<rect x="193.21" y="560.86" width="1.65" height="13.34" fill="#5b62ac"/>
<rect x="194.71" y="560.86" width="1.65" height="13.34" fill="#5b63ad"/>
<rect x="196.21" y="560.86" width="1.65" height="13.34" fill="#f32525"/>
<rect x="197.70" y="560.86" width="1.65" height="13.34" fill="#fde4e4"/>
<rect x="199.20" y="560.86" width="1.65" height="13.34" fill="#bcbfdd"/>
<rect x="200.70" y="560.86" width="1.65" height="13.34" fill="#fcd0d0"/>
<rect x="202.19" y="560.86" width="1.65" height="13.34" fill="#aaaed4"/>
<rect x="203.69" y="560.86" width="1.65" height="13.34" fill="#f54343"/>
<rect x="205.19" y="560.86" width="1.65" height="13.34" fill="#e6e8f3"/>
<rect x="206.68" y="560.86" width="1.65" height="13.34" fill="#f55454"/>
<rect x="208.18" y="560.86" width="1.65" height="13.34" fill="#f32525"/>
<rect x="209.68" y="560.86" width="1.65" height="13.34" fill="#fbb5b5"/>
<rect x="211.17" y="560.86" width="1.65" height="13.34" fill="#f32222"/>
<rect x="212.67" y="560.86" width="1.65" height="13.34" fill="#faa2a2"/>
<rect x="214.17" y="560.86" width="1.65" height="13.34" fill="#fbb2b2"/>
<rect x="215.66" y="560.86" width="1.65" height="13.34" fill="#898ec3"/>
<rect x="217.16" y="560.86" width="1.65" height="13.34" fill="#989dcb"/>
<rect x="218.66" y="560.86" width="1.65" height="13.34" fill="#f65959"/>
<rect x="220.15" y="560.86" width="1.65" height="13.34" fill="#f43434"/>
<rect x="221.65" y="560.86" width="1.65" height="13.34" fill="#afb3d7"/>
<rect x="223.15" y="560.86" width="1.65" height="13.34" fill="#f32c2c"/>
<rect x="224.64" y="560.86" width="1.65" height="13.34" fill="#b7badb"/>
<rect x="226.14" y="560.86" width="1.65" height="13.34" fill="#f99898"/>
<rect x="227.64" y="560.86" width="1.65" height="13.34" fill="#fbb3b3"/>
<rect x="229.13" y="560.86" width="1.65" height="13.34" fill="#a3a7d1"/>
<rect x="230.63" y="560.86" width="1.65" height="13.34" fill="#fcd2d2"/>
<rect x="232.13" y="560.86" width="1.65" height="13.34" fill="#e4e5f1"/>
<rect x="233.62" y="560.86" width="1.65" height="13.34" fill="#faa9a9"/>
<rect x="235.12" y="560.86" width="1.65" height="13.34" fill="#4951a3"/>
<rect x="236.62" y="560.86" width="1.65" height="13.34" fill="#f77474"/>
<rect x="238.11" y="560.86" width="1.65" height="13.34" fill="#f98f8f"/>
<rect x="239.61" y="560.86" width="1.65" height="13.34" fill="#f54444"/>
<rect x="241.11" y="560.86" width="1.65" height="13.34" fill="#f88585"/>
<rect x="242.60" y="560.86" width="1.65" height="13.34" fill="#757cba"/>
<rect x="244.10" y="560.86" width="1.65" height="13.34" fill="#868cc2"/>
<rect x="245.60" y="560.86" width="1.65" height="13.34" fill="#f77676"/>
<rect x="247.09" y="560.86" width="1.65" height="13.34" fill="#f43b3b"/>
<rect x="248.59" y="560.86" width="1.65" height="13.34" fill="#f54646"/>
<rect x="250.09" y="560.86" width="1.65" height="13.34" fill="#dbdced"/>
<rect x="251.58" y="560.86" width="1.65" height="13.34" fill="#38419b"/>
<rect x="253.08" y="560.86" width="1.65" height="13.34" fill="#434ca1"/>
<rect x="254.58" y="560.86" width="1.65" height="13.34" fill="#f99898"/>
<rect x="256.07" y="560.86" width="1.65" height="13.34" fill="#bcbfdd"/>
<rect x="257.57" y="560.86" width="1.65" height="13.34" fill="#f76969"/>
<rect x="259.07" y="560.86" width="1.65" height="13.34" fill="#fdd6d6"/>
<rect x="260.56" y="560.86" width="1.65" height="13.34" fill="#f76868"/>
<rect x="262.06" y="560.86" width="1.65" height="13.34" fill="#f43131"/>
<rect x="263.56" y="560.86" width="1.65" height="13.34" fill="#f31f1f"/>
<rect x="265.05" y="560.86" width="1.65" height="13.34" fill="#f99696"/>
<rect x="266.55" y="560.86" width="1.65" height="13.34" fill="#747bb9"/>
<rect x="268.05" y="560.86" width="1.65" height="13.34" fill="#f55151"/>
<rect x="269.54" y="560.86" width="1.65" height="13.34" fill="#f43939"/>
<rect x="271.04" y="560.86" width="1.65" height="13.34" fill="#9fa4cf"/>
<rect x="272.54" y="560.86" width="1.65" height="13.34" fill="#ededf6"/>
<rect x="274.03" y="560.86" width="1.65" height="13.34" fill="#f87979"/>
<rect x="275.53" y="560.86" width="1.65" height="13.34" fill="#37409a"/>
<rect x="277.03" y="560.86" width="1.65" height="13.34" fill="#2e3896"/>
<rect x="278.52" y="560.86" width="1.65" height="13.34" fill="#f98e8e"/>
<rect x="280.02" y="560.86" width="1.65" height="13.34" fill="#757bba"/>
<rect x="281.52" y="560.86" width="1.65" height="13.34" fill="#f32929"/>
<rect x="283.01" y="560.86" width="1.65" height="13.34" fill="#f76e6e"/>
<rect x="284.51" y="560.86" width="1.65" height="13.34" fill="#fddbdb"/>
<rect x="286.01" y="560.86" width="1.65" height="13.34" fill="#8a90c4"/>
<rect x="287.50" y="560.86" width="1.65" height="13.34" fill="#f88484"/>
<text x="59.70" y="584.37" font-size="10.4" text-anchor="end" fill="#222">DCAF6</text>
<rect x="64.50" y="574.00" width="1.65" height="13.34" fill="#f33030"/>
<rect x="66.00" y="574.00" width="1.65" height="13.34" fill="#999dcc"/>
<rect x="67.49" y="574.00" width="1.65" height="13.34" fill="#f77272"/>
<rect x="68.99" y="574.00" width="1.65" height="13.34" fill="#8086bf"/>
<rect x="70.49" y="574.00" width="1.65" height="13.34" fill="#f76e6e"/>
<rect x="71.98" y="574.00" width="1.65" height="13.34" fill="#4d56a6"/>
<rect x="73.48" y="574.00" width="1.65" height="13.34" fill="#f88888"/>
<rect x="74.98" y="574.00" width="1.65" height="13.34" fill="#a8acd3"/>
<rect x="76.47" y="574.00" width="1.65" height="13.34" fill="#faa0a0"/>
<rect x="77.97" y="574.00" width="1.65" height="13.34" fill="#e9eaf4"/>
<rect x="79.47" y="574.00" width="1.65" height="13.34" fill="#424ba0"/>
<rect x="80.96" y="574.00" width="1.65" height="13.34" fill="#d7d9eb"/>
<rect x="82.46" y="574.00" width="1.65" height="13.34" fill="#979ccb"/>
<rect x="83.96" y="574.00" width="1.65" height="13.34" fill="#f21c1c"/>
<rect x="85.45" y="574.00" width="1.65" height="13.34" fill="#f87a7a"/>
<rect x="86.95" y="574.00" width="1.65" height="13.34" fill="#a1a5d0"/>
<rect x="88.45" y="574.00" width="1.65" height="13.34" fill="#6b72b5"/>
<rect x="89.94" y="574.00" width="1.65" height="13.34" fill="#f55151"/>
<rect x="91.44" y="574.00" width="1.65" height="13.34" fill="#f99797"/>
<rect x="92.94" y="574.00" width="1.65" height="13.34" fill="#c3c6e1"/>
<rect x="94.43" y="574.00" width="1.65" height="13.34" fill="#fdd6d6"/>
<rect x="95.93" y="574.00" width="1.65" height="13.34" fill="#757bb9"/>
<rect x="97.43" y="574.00" width="1.65" height="13.34" fill="#6f76b7"/>
<rect x="98.92" y="574.00" width="1.65" height="13.34" fill="#f65757"/>
<rect x="100.42" y="574.00" width="1.65" height="13.34" fill="#fddddd"/>
<rect x="101.92" y="574.00" width="1.65" height="13.34" fill="#6a71b4"/>
<rect x="103.41" y="574.00" width="1.65" height="13.34" fill="#9a9ecc"/>
<rect x="104.91" y="574.00" width="1.65" height="13.34" fill="#dcdeee"/>
<rect x="106.41" y="574.00" width="1.65" height="13.34" fill="#adb1d6"/>
<rect x="107.90" y="574.00" width="1.65" height="13.34" fill="#9297c8"/>
<rect x="109.40" y="574.00" width="1.65" height="13.34" fill="#8f95c7"/>
<rect x="110.90" y="574.00" width="1.65" height="13.34" fill="#6e74b6"/>
<rect x="112.39" y="574.00" width="1.65" height="13.34" fill="#feeded"/>
<rect x="113.89" y="574.00" width="1.65" height="13.34" fill="#f77575"/>
<rect x="115.39" y="574.00" width="1.65" height="13.34" fill="#9499c9"/>
<rect x="116.88" y="574.00" width="1.65" height="13.34" fill="#4f58a7"/>
<rect x="118.38" y="574.00" width="1.65" height="13.34" fill="#f9fafc"/>
<rect x="119.88" y="574.00" width="1.65" height="13.34" fill="#676eb3"/>
<rect x="121.37" y="574.00" width="1.65" height="13.34" fill="#b5b8da"/>
<rect x="122.87" y="574.00" width="1.65" height="13.34" fill="#f54e4e"/>
<rect x="124.37" y="574.00" width="1.65" height="13.34" fill="#646bb1"/>
<rect x="125.86" y="574.00" width="1.65" height="13.34" fill="#bbbedd"/>
<rect x="127.36" y="574.00" width="1.65" height="13.34" fill="#f66060"/>
<rect x="128.86" y="574.00" width="1.65" height="13.34" fill="#f43a3a"/>
<rect x="130.35" y="574.00" width="1.65" height="13.34" fill="#777ebb"/>
<rect x="131.85" y="574.00" width="1.65" height="13.34" fill="#f65b5b"/>
<rect x="133.35" y="574.00" width="1.65" height="13.34" fill="#959aca"/>
<rect x="134.84" y="574.00" width="1.65" height="13.34" fill="#898fc4"/>
<rect x="136.34" y="574.00" width="1.65" height="13.34" fill="#787ebb"/>
<rect x="137.84" y="574.00" width="1.65" height="13.34" fill="#fcc0c0"/>
<rect x="139.33" y="574.00" width="1.65" height="13.34" fill="#fee5e5"/>
<rect x="140.83" y="574.00" width="1.65" height="13.34" fill="#fddada"/>
<rect x="142.33" y="574.00" width="1.65" height="13.34" fill="#f21919"/>
<rect x="143.82" y="574.00" width="1.65" height="13.34" fill="#c6c9e3"/>
<rect x="145.32" y="574.00" width="1.65" height="13.34" fill="#f2f3f9"/>
<rect x="146.82" y="574.00" width="1.65" height="13.34" fill="#f77575"/>
<rect x="148.31" y="574.00" width="1.65" height="13.34" fill="#fde3e3"/>
<rect x="149.81" y="574.00" width="1.65" height="13.34" fill="#e1e2f0"/>
<rect x="151.31" y="574.00" width="1.65" height="13.34" fill="#fddddd"/>
<rect x="152.80" y="574.00" width="1.65" height="13.34" fill="#797fbb"/>
<rect x="154.30" y="574.00" width="1.65" height="13.34" fill="#fdd5d5"/>
<rect x="155.80" y="574.00" width="1.65" height="13.34" fill="#dadced"/>
<rect x="157.29" y="574.00" width="1.65" height="13.34" fill="#f43a3a"/>
<rect x="158.79" y="574.00" width="1.65" height="13.34" fill="#898ec4"/>
<rect x="160.29" y="574.00" width="1.65" height="13.34" fill="#7e84be"/>
<rect x="161.78" y="574.00" width="1.65" height="13.34" fill="#fbbebe"/>
<rect x="163.28" y="574.00" width="1.65" height="13.34" fill="#feecec"/>
<rect x="164.78" y="574.00" width="1.65" height="13.34" fill="#a4a8d1"/>
<rect x="166.27" y="574.00" width="1.65" height="13.34" fill="#565eaa"/>
<rect x="167.77" y="574.00" width="1.65" height="13.34" fill="#3d469d"/>
<rect x="169.27" y="574.00" width="1.65" height="13.34" fill="#5f66af"/>
<rect x="170.76" y="574.00" width="1.65" height="13.34" fill="#525aa8"/>
<rect x="172.26" y="574.00" width="1.65" height="13.34" fill="#e0e1ef"/>
<rect x="173.76" y="574.00" width="1.65" height="13.34" fill="#d7d9eb"/>
<rect x="175.25" y="574.00" width="1.65" height="13.34" fill="#f54343"/>
<rect x="176.75" y="574.00" width="1.65" height="13.34" fill="#dee0ef"/>
<rect x="178.25" y="574.00" width="1.65" height="13.34" fill="#fcfdfe"/>
<rect x="179.74" y="574.00" width="1.65" height="13.34" fill="#feecec"/>
<rect x="181.24" y="574.00" width="1.65" height="13.34" fill="#6068af"/>
<rect x="182.74" y="574.00" width="1.65" height="13.34" fill="#a9add4"/>
<rect x="184.23" y="574.00" width="1.65" height="13.34" fill="#f43232"/>
<rect x="185.73" y="574.00" width="1.65" height="13.34" fill="#9fa3cf"/>
<rect x="187.23" y="574.00" width="1.65" height="13.34" fill="#f43232"/>
<rect x="188.72" y="574.00" width="1.65" height="13.34" fill="#c1c4e0"/>
<rect x="190.22" y="574.00" width="1.65" height="13.34" fill="#f21e1e"/>
<rect x="191.72" y="574.00" width="1.65" height="13.34" fill="#dfe1ef"/>
<rect x="193.21" y="574.00" width="1.65" height="13.34" fill="#faa2a2"/>
<rect x="194.71" y="574.00" width="1.65" height="13.34" fill="#f43a3a"/>
<rect x="196.21" y="574.00" width="1.65" height="13.34" fill="#faa0a0"/>
<rect x="197.70" y="574.00" width="1.65" height="13.34" fill="#a0a4cf"/>
<rect x="199.20" y="574.00" width="1.65" height="13.34" fill="#f32828"/>
<rect x="200.70" y="574.00" width="1.65" height="13.34" fill="#fdd8d8"/>
<rect x="202.19" y="574.00" width="1.65" height="13.34" fill="#fcc8c8"/>
<rect x="203.69" y="574.00" width="1.65" height="13.34" fill="#a7abd3"/>
<rect x="205.19" y="574.00" width="1.65" height="13.34" fill="#f54848"/>
<rect x="206.68" y="574.00" width="1.65" height="13.34" fill="#f44040"/>
<rect x="208.18" y="574.00" width="1.65" height="13.34" fill="#f32929"/>
<rect x="209.68" y="574.00" width="1.65" height="13.34" fill="#e1e2f0"/>
<rect x="211.17" y="574.00" width="1.65" height="13.34" fill="#faa2a2"/>
<rect x="212.67" y="574.00" width="1.65" height="13.34" fill="#fbb0b0"/>
<rect x="214.17" y="574.00" width="1.65" height="13.34" fill="#faa2a2"/>
<rect x="215.66" y="574.00" width="1.65" height="13.34" fill="#f76868"/>
<rect x="217.16" y="574.00" width="1.65" height="13.34" fill="#f32c2c"/>
<rect x="218.66" y="574.00" width="1.65" height="13.34" fill="#f33030"/>
<rect x="220.15" y="574.00" width="1.65" height="13.34" fill="#f65d5d"/>
<rect x="221.65" y="574.00" width="1.65" height="13.34" fill="#fccfcf"/>
<rect x="223.15" y="574.00" width="1.65" height="13.34" fill="#f77575"/>
<rect x="224.64" y="574.00" width="1.65" height="13.34" fill="#353f9a"/>
<rect x="226.14" y="574.00" width="1.65" height="13.34" fill="#feecec"/>
<rect x="227.64" y="574.00" width="1.65" height="13.34" fill="#f65656"/>
<rect x="229.13" y="574.00" width="1.65" height="13.34" fill="#fcc3c3"/>
<rect x="230.63" y="574.00" width="1.65" height="13.34" fill="#f21919"/>
<rect x="232.13" y="574.00" width="1.65" height="13.34" fill="#f76a6a"/>
<rect x="233.62" y="574.00" width="1.65" height="13.34" fill="#2f3997"/>
<rect x="235.12" y="574.00" width="1.65" height="13.34" fill="#feeded"/>
<rect x="236.62" y="574.00" width="1.65" height="13.34" fill="#f32d2d"/>
<rect x="238.11" y="574.00" width="1.65" height="13.34" fill="#f76c6c"/>
<rect x="239.61" y="574.00" width="1.65" height="13.34" fill="#f43b3b"/>
<rect x="241.11" y="574.00" width="1.65" height="13.34" fill="#f77272"/>
<rect x="242.60" y="574.00" width="1.65" height="13.34" fill="#f65f5f"/>
<rect x="244.10" y="574.00" width="1.65" height="13.34" fill="#565eaa"/>
<rect x="245.60" y="574.00" width="1.65" height="13.34" fill="#666db2"/>
<rect x="247.09" y="574.00" width="1.65" height="13.34" fill="#f98d8d"/>
<rect x="248.59" y="574.00" width="1.65" height="13.34" fill="#f21a1a"/>
<rect x="250.09" y="574.00" width="1.65" height="13.34" fill="#fdd6d6"/>
<rect x="251.58" y="574.00" width="1.65" height="13.34" fill="#f88585"/>
<rect x="253.08" y="574.00" width="1.65" height="13.34" fill="#f65959"/>
<rect x="254.58" y="574.00" width="1.65" height="13.34" fill="#fdd7d7"/>
<rect x="256.07" y="574.00" width="1.65" height="13.34" fill="#f54343"/>
<rect x="257.57" y="574.00" width="1.65" height="13.34" fill="#7b82bd"/>
<rect x="259.07" y="574.00" width="1.65" height="13.34" fill="#f88888"/>
<rect x="260.56" y="574.00" width="1.65" height="13.34" fill="#f99a9a"/>
<rect x="262.06" y="574.00" width="1.65" height="13.34" fill="#858ac2"/>
<rect x="263.56" y="574.00" width="1.65" height="13.34" fill="#fdd7d7"/>
<rect x="265.05" y="574.00" width="1.65" height="13.34" fill="#858bc2"/>
<rect x="266.55" y="574.00" width="1.65" height="13.34" fill="#feeded"/>
<rect x="268.05" y="574.00" width="1.65" height="13.34" fill="#fef2f2"/>
<rect x="269.54" y="574.00" width="1.65" height="13.34" fill="#dadced"/>
<rect x="271.04" y="574.00" width="1.65" height="13.34" fill="#fafafc"/>
<rect x="272.54" y="574.00" width="1.65" height="13.34" fill="#39429c"/>
<rect x="274.03" y="574.00" width="1.65" height="13.34" fill="#fbb3b3"/>
<rect x="275.53" y="574.00" width="1.65" height="13.34" fill="#b2b6d8"/>
<rect x="277.03" y="574.00" width="1.65" height="13.34" fill="#eeeff7"/>
<rect x="278.52" y="574.00" width="1.65" height="13.34" fill="#9fa4cf"/>
<rect x="280.02" y="574.00" width="1.65" height="13.34" fill="#e0e2ef"/>
<rect x="281.52" y="574.00" width="1.65" height="13.34" fill="#f77474"/>
<rect x="283.01" y="574.00" width="1.65" height="13.34" fill="#f77373"/>
<rect x="284.51" y="574.00" width="1.65" height="13.34" fill="#fcc2c2"/>
<rect x="286.01" y="574.00" width="1.65" height="13.34" fill="#f65d5d"/>
<rect x="287.50" y="574.00" width="1.65" height="13.34" fill="#faa6a6"/>
<text x="59.70" y="597.51" font-size="10.4" text-anchor="end" fill="#222">TRPC4AP</text>
<rect x="64.50" y="587.14" width="1.65" height="13.34" fill="#8086bf"/>
<rect x="66.00" y="587.14" width="1.65" height="13.34" fill="#6d73b5"/>
<rect x="67.49" y="587.14" width="1.65" height="13.34" fill="#f87a7a"/>
<rect x="68.99" y="587.14" width="1.65" height="13.34" fill="#b6b9da"/>
<rect x="70.49" y="587.14" width="1.65" height="13.34" fill="#7178b8"/>
<rect x="71.98" y="587.14" width="1.65" height="13.34" fill="#cccfe5"/>
<rect x="73.48" y="587.14" width="1.65" height="13.34" fill="#4a52a4"/>
<rect x="74.98" y="587.14" width="1.65" height="13.34" fill="#fbb7b7"/>
<rect x="76.47" y="587.14" width="1.65" height="13.34" fill="#f54a4a"/>
<rect x="77.97" y="587.14" width="1.65" height="13.34" fill="#f21b1b"/>
<rect x="79.47" y="587.14" width="1.65" height="13.34" fill="#f32b2b"/>
<rect x="80.96" y="587.14" width="1.65" height="13.34" fill="#fbb6b6"/>
<rect x="82.46" y="587.14" width="1.65" height="13.34" fill="#4e56a6"/>
<rect x="83.96" y="587.14" width="1.65" height="13.34" fill="#464fa2"/>
<rect x="85.45" y="587.14" width="1.65" height="13.34" fill="#f43b3b"/>
<rect x="86.95" y="587.14" width="1.65" height="13.34" fill="#aaaed4"/>
<rect x="88.45" y="587.14" width="1.65" height="13.34" fill="#37409a"/>
<rect x="89.94" y="587.14" width="1.65" height="13.34" fill="#9499c9"/>
<rect x="91.44" y="587.14" width="1.65" height="13.34" fill="#fcc3c3"/>
<rect x="92.94" y="587.14" width="1.65" height="13.34" fill="#fbbebe"/>
<rect x="94.43" y="587.14" width="1.65" height="13.34" fill="#2c3695"/>
<rect x="95.93" y="587.14" width="1.65" height="13.34" fill="#f54f4f"/>
<rect x="97.43" y="587.14" width="1.65" height="13.34" fill="#363f9a"/>
<rect x="98.92" y="587.14" width="1.65" height="13.34" fill="#fddfdf"/>
<rect x="100.42" y="587.14" width="1.65" height="13.34" fill="#f32d2d"/>
<rect x="101.92" y="587.14" width="1.65" height="13.34" fill="#c7c9e3"/>
<rect x="103.41" y="587.14" width="1.65" height="13.34" fill="#fef5f5"/>
<rect x="104.91" y="587.14" width="1.65" height="13.34" fill="#fee6e6"/>
<rect x="106.41" y="587.14" width="1.65" height="13.34" fill="#f43737"/>
<rect x="107.90" y="587.14" width="1.65" height="13.34" fill="#feebeb"/>
<rect x="109.40" y="587.14" width="1.65" height="13.34" fill="#686fb3"/>
<rect x="110.90" y="587.14" width="1.65" height="13.34" fill="#fdd7d7"/>
<rect x="112.39" y="587.14" width="1.65" height="13.34" fill="#9fa3cf"/>
<rect x="113.89" y="587.14" width="1.65" height="13.34" fill="#565eaa"/>
<rect x="115.39" y="587.14" width="1.65" height="13.34" fill="#f21a1a"/>
<rect x="116.88" y="587.14" width="1.65" height="13.34" fill="#a5aad2"/>
<rect x="118.38" y="587.14" width="1.65" height="13.34" fill="#fef0f0"/>
<rect x="119.88" y="587.14" width="1.65" height="13.34" fill="#a6aad2"/>
<rect x="121.37" y="587.14" width="1.65" height="13.34" fill="#5860ab"/>
<rect x="122.87" y="587.14" width="1.65" height="13.34" fill="#fcc9c9"/>
<rect x="124.37" y="587.14" width="1.65" height="13.34" fill="#fee5e5"/>
<rect x="125.86" y="587.14" width="1.65" height="13.34" fill="#b0b3d7"/>
<rect x="127.36" y="587.14" width="1.65" height="13.34" fill="#545ca9"/>
<rect x="128.86" y="587.14" width="1.65" height="13.34" fill="#f98e8e"/>
<rect x="130.35" y="587.14" width="1.65" height="13.34" fill="#fef3f3"/>
<rect x="131.85" y="587.14" width="1.65" height="13.34" fill="#aeb2d6"/>
<rect x="133.35" y="587.14" width="1.65" height="13.34" fill="#f43131"/>
<rect x="134.84" y="587.14" width="1.65" height="13.34" fill="#abafd5"/>
<rect x="136.34" y="587.14" width="1.65" height="13.34" fill="#535ba9"/>
<rect x="137.84" y="587.14" width="1.65" height="13.34" fill="#a2a7d0"/>
<rect x="139.33" y="587.14" width="1.65" height="13.34" fill="#b2b6d8"/>
<rect x="140.83" y="587.14" width="1.65" height="13.34" fill="#cacce4"/>
<rect x="142.33" y="587.14" width="1.65" height="13.34" fill="#fdd5d5"/>
<rect x="143.82" y="587.14" width="1.65" height="13.34" fill="#f43f3f"/>
<rect x="145.32" y="587.14" width="1.65" height="13.34" fill="#4d55a6"/>
<rect x="146.82" y="587.14" width="1.65" height="13.34" fill="#fee6e6"/>
<rect x="148.31" y="587.14" width="1.65" height="13.34" fill="#f99797"/>
<rect x="149.81" y="587.14" width="1.65" height="13.34" fill="#f43f3f"/>
<rect x="151.31" y="587.14" width="1.65" height="13.34" fill="#6f75b6"/>
<rect x="152.80" y="587.14" width="1.65" height="13.34" fill="#f43636"/>
<rect x="154.30" y="587.14" width="1.65" height="13.34" fill="#4d55a5"/>
<rect x="155.80" y="587.14" width="1.65" height="13.34" fill="#fcc8c8"/>
<rect x="157.29" y="587.14" width="1.65" height="13.34" fill="#787ebb"/>
<rect x="158.79" y="587.14" width="1.65" height="13.34" fill="#f65959"/>
<rect x="160.29" y="587.14" width="1.65" height="13.34" fill="#f99a9a"/>
<rect x="161.78" y="587.14" width="1.65" height="13.34" fill="#f54747"/>
<rect x="163.28" y="587.14" width="1.65" height="13.34" fill="#f65d5d"/>
<rect x="164.78" y="587.14" width="1.65" height="13.34" fill="#f66565"/>
<rect x="166.27" y="587.14" width="1.65" height="13.34" fill="#fbb2b2"/>
<rect x="167.77" y="587.14" width="1.65" height="13.34" fill="#6269b0"/>
<rect x="169.27" y="587.14" width="1.65" height="13.34" fill="#f55252"/>
<rect x="170.76" y="587.14" width="1.65" height="13.34" fill="#414aa0"/>
<rect x="172.26" y="587.14" width="1.65" height="13.34" fill="#ebecf5"/>
<rect x="173.76" y="587.14" width="1.65" height="13.34" fill="#c2c5e0"/>
<rect x="175.25" y="587.14" width="1.65" height="13.34" fill="#f21818"/>
<rect x="176.75" y="587.14" width="1.65" height="13.34" fill="#7379b8"/>
<rect x="178.25" y="587.14" width="1.65" height="13.34" fill="#e1e2f0"/>
<rect x="179.74" y="587.14" width="1.65" height="13.34" fill="#6a71b4"/>
<rect x="181.24" y="587.14" width="1.65" height="13.34" fill="#9ca1cd"/>
<rect x="182.74" y="587.14" width="1.65" height="13.34" fill="#babddc"/>
<rect x="184.23" y="587.14" width="1.65" height="13.34" fill="#fbb3b3"/>
<rect x="185.73" y="587.14" width="1.65" height="13.34" fill="#f99c9c"/>
<rect x="187.23" y="587.14" width="1.65" height="13.34" fill="#fbb1b1"/>
<rect x="188.72" y="587.14" width="1.65" height="13.34" fill="#fccbcb"/>
<rect x="190.22" y="587.14" width="1.65" height="13.34" fill="#f21f1f"/>
<rect x="191.72" y="587.14" width="1.65" height="13.34" fill="#343d99"/>
<rect x="193.21" y="587.14" width="1.65" height="13.34" fill="#f2f3f8"/>
<rect x="194.71" y="587.14" width="1.65" height="13.34" fill="#f21d1d"/>
<rect x="196.21" y="587.14" width="1.65" height="13.34" fill="#f65d5d"/>
<rect x="197.70" y="587.14" width="1.65" height="13.34" fill="#fbbfbf"/>
<rect x="199.20" y="587.14" width="1.65" height="13.34" fill="#f1f2f8"/>
<rect x="200.70" y="587.14" width="1.65" height="13.34" fill="#fa9f9f"/>
<rect x="202.19" y="587.14" width="1.65" height="13.34" fill="#bec1de"/>
<rect x="203.69" y="587.14" width="1.65" height="13.34" fill="#fbb3b3"/>
<rect x="205.19" y="587.14" width="1.65" height="13.34" fill="#f88080"/>
<rect x="206.68" y="587.14" width="1.65" height="13.34" fill="#b1b5d8"/>
<rect x="208.18" y="587.14" width="1.65" height="13.34" fill="#313b98"/>
<rect x="209.68" y="587.14" width="1.65" height="13.34" fill="#fde2e2"/>
<rect x="211.17" y="587.14" width="1.65" height="13.34" fill="#fbbbbb"/>
<rect x="212.67" y="587.14" width="1.65" height="13.34" fill="#faa1a1"/>
<rect x="214.17" y="587.14" width="1.65" height="13.34" fill="#fcc2c2"/>
<rect x="215.66" y="587.14" width="1.65" height="13.34" fill="#e5e6f2"/>
<rect x="217.16" y="587.14" width="1.65" height="13.34" fill="#fddbdb"/>
<rect x="218.66" y="587.14" width="1.65" height="13.34" fill="#f88484"/>
<rect x="220.15" y="587.14" width="1.65" height="13.34" fill="#faa5a5"/>
<rect x="221.65" y="587.14" width="1.65" height="13.34" fill="#fa9e9e"/>
<rect x="223.15" y="587.14" width="1.65" height="13.34" fill="#faa2a2"/>
<rect x="224.64" y="587.14" width="1.65" height="13.34" fill="#c1c4e0"/>
<rect x="226.14" y="587.14" width="1.65" height="13.34" fill="#d8daeb"/>
<rect x="227.64" y="587.14" width="1.65" height="13.34" fill="#f32222"/>
<rect x="229.13" y="587.14" width="1.65" height="13.34" fill="#f32121"/>
<rect x="230.63" y="587.14" width="1.65" height="13.34" fill="#afb2d7"/>
<rect x="232.13" y="587.14" width="1.65" height="13.34" fill="#f77070"/>
<rect x="233.62" y="587.14" width="1.65" height="13.34" fill="#f32222"/>
<rect x="235.12" y="587.14" width="1.65" height="13.34" fill="#888dc3"/>
<rect x="236.62" y="587.14" width="1.65" height="13.34" fill="#f88282"/>
<rect x="238.11" y="587.14" width="1.65" height="13.34" fill="#7178b8"/>
<rect x="239.61" y="587.14" width="1.65" height="13.34" fill="#d1d3e8"/>
<rect x="241.11" y="587.14" width="1.65" height="13.34" fill="#fbb0b0"/>
<rect x="242.60" y="587.14" width="1.65" height="13.34" fill="#fff8f8"/>
<rect x="244.10" y="587.14" width="1.65" height="13.34" fill="#f32b2b"/>
<rect x="245.60" y="587.14" width="1.65" height="13.34" fill="#f77676"/>
<rect x="247.09" y="587.14" width="1.65" height="13.34" fill="#f98d8d"/>
<rect x="248.59" y="587.14" width="1.65" height="13.34" fill="#5c64ad"/>
<rect x="250.09" y="587.14" width="1.65" height="13.34" fill="#f76969"/>
<rect x="251.58" y="587.14" width="1.65" height="13.34" fill="#f32626"/>
<rect x="253.08" y="587.14" width="1.65" height="13.34" fill="#f21919"/>
<rect x="254.58" y="587.14" width="1.65" height="13.34" fill="#f32727"/>
<rect x="256.07" y="587.14" width="1.65" height="13.34" fill="#dadcec"/>
<rect x="257.57" y="587.14" width="1.65" height="13.34" fill="#f88a8a"/>
<rect x="259.07" y="587.14" width="1.65" height="13.34" fill="#f99898"/>
<rect x="260.56" y="587.14" width="1.65" height="13.34" fill="#f21717"/>
<rect x="262.06" y="587.14" width="1.65" height="13.34" fill="#b4b7d9"/>
<rect x="263.56" y="587.14" width="1.65" height="13.34" fill="#f88a8a"/>
<rect x="265.05" y="587.14" width="1.65" height="13.34" fill="#333c98"/>
<rect x="266.55" y="587.14" width="1.65" height="13.34" fill="#e5e6f2"/>
<rect x="268.05" y="587.14" width="1.65" height="13.34" fill="#2c3695"/>
<rect x="269.54" y="587.14" width="1.65" height="13.34" fill="#5d64ae"/>
<rect x="271.04" y="587.14" width="1.65" height="13.34" fill="#fbb9b9"/>
<rect x="272.54" y="587.14" width="1.65" height="13.34" fill="#797fbb"/>
<rect x="274.03" y="587.14" width="1.65" height="13.34" fill="#f77272"/>
<rect x="275.53" y="587.14" width="1.65" height="13.34" fill="#4b53a4"/>
<rect x="277.03" y="587.14" width="1.65" height="13.34" fill="#d1d3e8"/>
<rect x="278.52" y="587.14" width="1.65" height="13.34" fill="#f43b3b"/>
<rect x="280.02" y="587.14" width="1.65" height="13.34" fill="#d8daec"/>
<rect x="281.52" y="587.14" width="1.65" height="13.34" fill="#faabab"/>
<rect x="283.01" y="587.14" width="1.65" height="13.34" fill="#fefeff"/>
<rect x="284.51" y="587.14" width="1.65" height="13.34" fill="#f99797"/>
<rect x="286.01" y="587.14" width="1.65" height="13.34" fill="#fde2e2"/>
<rect x="287.50" y="587.14" width="1.65" height="13.34" fill="#8187c0"/>
<rect x="64.50" y="508.30" width="224.50" height="91.98" fill="none" stroke="#555" stroke-width="0.8"/>
<text x="526.40" y="31.40" font-size="11.5" text-anchor="middle" fill="#222">Cell lines (Tissue of origin)</text>
<line x1="380.90" y1="35.00" x2="380.90" y2="179.20" stroke="#777" stroke-width="1"/>
<line x1="380.90" y1="179.20" x2="672.00" y2="179.20" stroke="#777" stroke-width="1"/>
<line x1="377.40" y1="35.20" x2="380.90" y2="35.20" stroke="#777" stroke-width="1"/>
<text x="376.00" y="39.10" font-size="10" text-anchor="end" fill="#222">1.0</text>
<line x1="377.40" y1="83.20" x2="380.90" y2="83.20" stroke="#777" stroke-width="1"/>
<text x="376.00" y="87.10" font-size="10" text-anchor="end" fill="#222">0.5</text>
<line x1="377.40" y1="131.20" x2="380.90" y2="131.20" stroke="#777" stroke-width="1"/>
<text x="376.00" y="135.10" font-size="10" text-anchor="end" fill="#222">0.0</text>
<line x1="377.40" y1="179.20" x2="380.90" y2="179.20" stroke="#777" stroke-width="1"/>
<text x="376.00" y="183.10" font-size="10" text-anchor="end" fill="#222">-0.5</text>
<line x1="380.90" y1="131.20" x2="673.00" y2="131.20" stroke="#4a4a4a" stroke-width="0.9" stroke-dasharray="5 3.15"/>
<text font-size="11.4" fill="#222" text-anchor="middle" transform="translate(339.5 107) rotate(-90)"><tspan x="0" y="0">Pearson Correlation (R):</tspan><tspan x="0" y="12.7">RepID(exp)-NE signature</tspan></text>
<line x1="389.40" y1="179.20" x2="389.40" y2="182.50" stroke="#777" stroke-width="1"/>
<circle cx="389.40" cy="84.16" r="3.9" fill="#eb9a1e" stroke="#444" stroke-width="0.8"/>
<text x="396.00" y="97.00" font-size="9.5" text-anchor="middle" fill="#222">0.49</text>
<text x="385.40" y="190.00" font-size="9.5" text-anchor="start" fill="#222" transform="rotate(45 385.40 190.00)">All</text>
<line x1="402.43" y1="179.20" x2="402.43" y2="182.50" stroke="#777" stroke-width="1"/>
<circle cx="402.43" cy="66.88" r="3.9" fill="#dd5a1a" stroke="#444" stroke-width="0.8"/>
<text x="401.23" y="59.78" font-size="9.5" text-anchor="start" fill="#222" transform="rotate(-45 401.23 59.78)">0.67</text>
<text x="398.43" y="190.00" font-size="9.5" text-anchor="start" fill="#222" transform="rotate(45 398.43 190.00)">Liver</text>
<line x1="415.46" y1="179.20" x2="415.46" y2="182.50" stroke="#777" stroke-width="1"/>
<circle cx="415.46" cy="68.80" r="3.9" fill="#dd5a1a" stroke="#444" stroke-width="0.8"/>
<text x="414.26" y="61.70" font-size="9.5" text-anchor="start" fill="#222" transform="rotate(-45 414.26 61.70)">0.65</text>
<text x="411.46" y="190.00" font-size="9.5" text-anchor="start" fill="#222" transform="rotate(45 411.46 190.00)">Lung</text>
<line x1="428.49" y1="179.20" x2="428.49" y2="182.50" stroke="#777" stroke-width="1"/>
<circle cx="428.49" cy="68.80" r="3.9" fill="#dd5a1a" stroke="#444" stroke-width="0.8"/>
<text x="427.29" y="61.70" font-size="9.5" text-anchor="start" fill="#222" transform="rotate(-45 427.29 61.70)">0.65</text>
<text x="424.49" y="190.00" font-size="9.5" text-anchor="start" fill="#222" transform="rotate(45 424.49 190.00)">Thyroid</text>
<line x1="441.52" y1="179.20" x2="441.52" y2="182.50" stroke="#777" stroke-width="1"/>
<circle cx="441.52" cy="76.48" r="3.9" fill="#dd5a1a" stroke="#444" stroke-width="0.8"/>
<text x="440.32" y="69.38" font-size="9.5" text-anchor="start" fill="#222" transform="rotate(-45 440.32 69.38)">0.57</text>
<text x="437.52" y="190.00" font-size="9.5" text-anchor="start" fill="#222" transform="rotate(45 437.52 190.00)">Brain CNS</text>
<line x1="454.55" y1="179.20" x2="454.55" y2="182.50" stroke="#777" stroke-width="1"/>
<circle cx="454.55" cy="76.48" r="3.9" fill="#dd5a1a" stroke="#444" stroke-width="0.8"/>
<text x="453.35" y="69.38" font-size="9.5" text-anchor="start" fill="#222" transform="rotate(-45 453.35 69.38)">0.57</text>
<text x="450.55" y="190.00" font-size="9.5" text-anchor="start" fill="#222" transform="rotate(45 450.55 190.00)">Bone</text>
<line x1="467.58" y1="179.20" x2="467.58" y2="182.50" stroke="#777" stroke-width="1"/>
<circle cx="467.58" cy="85.12" r="3.9" fill="#e8931c" stroke="#444" stroke-width="0.8"/>
<text x="466.38" y="78.02" font-size="9.5" text-anchor="start" fill="#222" transform="rotate(-45 466.38 78.02)">0.48</text>
<text x="463.58" y="190.00" font-size="9.5" text-anchor="start" fill="#222" transform="rotate(45 463.58 190.00)">Soft Tissue</text>
<line x1="480.61" y1="179.20" x2="480.61" y2="182.50" stroke="#777" stroke-width="1"/>
<circle cx="480.61" cy="85.12" r="3.9" fill="#e8931c" stroke="#444" stroke-width="0.8"/>
<text x="479.41" y="78.02" font-size="9.5" text-anchor="start" fill="#222" transform="rotate(-45 479.41 78.02)">0.48</text>
<text x="476.61" y="190.00" font-size="9.5" text-anchor="start" fill="#222" transform="rotate(45 476.61 190.00)">Prostate</text>
<line x1="493.64" y1="179.20" x2="493.64" y2="182.50" stroke="#777" stroke-width="1"/>
<circle cx="493.64" cy="99.52" r="3.9" fill="#e8931c" stroke="#444" stroke-width="0.8"/>
<text x="492.44" y="92.42" font-size="9.5" text-anchor="start" fill="#222" transform="rotate(-45 492.44 92.42)">0.33</text>
<text x="489.64" y="190.00" font-size="9.5" text-anchor="start" fill="#222" transform="rotate(45 489.64 190.00)">Ovary</text>
<line x1="506.67" y1="179.20" x2="506.67" y2="182.50" stroke="#777" stroke-width="1"/>
<circle cx="506.67" cy="104.32" r="3.9" fill="#f0b030" stroke="#444" stroke-width="0.8"/>
<text x="505.47" y="97.22" font-size="9.5" text-anchor="start" fill="#222" transform="rotate(-45 505.47 97.22)">0.28</text>
<text x="502.67" y="190.00" font-size="9.5" text-anchor="start" fill="#222" transform="rotate(45 502.67 190.00)">Bladder Urinary</text>
<line x1="519.70" y1="179.20" x2="519.70" y2="182.50" stroke="#777" stroke-width="1"/>
<circle cx="519.70" cy="109.12" r="3.9" fill="#f0b030" stroke="#444" stroke-width="0.8"/>
<text x="518.50" y="102.02" font-size="9.5" text-anchor="start" fill="#222" transform="rotate(-45 518.50 102.02)">0.23</text>
<text x="515.70" y="190.00" font-size="9.5" text-anchor="start" fill="#222" transform="rotate(45 515.70 190.00)">Esophagus Stomach</text>
<line x1="532.73" y1="179.20" x2="532.73" y2="182.50" stroke="#777" stroke-width="1"/>
<circle cx="532.73" cy="110.08" r="3.9" fill="#f0b030" stroke="#444" stroke-width="0.8"/>
<text x="531.53" y="102.98" font-size="9.5" text-anchor="start" fill="#222" transform="rotate(-45 531.53 102.98)">0.22</text>
<text x="528.73" y="190.00" font-size="9.5" text-anchor="start" fill="#222" transform="rotate(45 528.73 190.00)">Lymph</text>
<line x1="545.76" y1="179.20" x2="545.76" y2="182.50" stroke="#777" stroke-width="1"/>
<circle cx="545.76" cy="115.84" r="3.9" fill="#f0b030" stroke="#444" stroke-width="0.8"/>
<text x="544.56" y="108.74" font-size="9.5" text-anchor="start" fill="#222" transform="rotate(-45 544.56 108.74)">0.16</text>
<text x="541.76" y="190.00" font-size="9.5" text-anchor="start" fill="#222" transform="rotate(45 541.76 190.00)">Breast</text>
<line x1="558.79" y1="179.20" x2="558.79" y2="182.50" stroke="#777" stroke-width="1"/>
<circle cx="558.79" cy="117.76" r="3.9" fill="#f0b030" stroke="#444" stroke-width="0.8"/>
<text x="557.59" y="110.66" font-size="9.5" text-anchor="start" fill="#222" transform="rotate(-45 557.59 110.66)">0.14</text>
<text x="554.79" y="190.00" font-size="9.5" text-anchor="start" fill="#222" transform="rotate(45 554.79 190.00)">Skin</text>
<line x1="571.82" y1="179.20" x2="571.82" y2="182.50" stroke="#777" stroke-width="1"/>
<circle cx="571.82" cy="117.76" r="3.9" fill="#f0b030" stroke="#444" stroke-width="0.8"/>
<text x="570.62" y="110.66" font-size="9.5" text-anchor="start" fill="#222" transform="rotate(-45 570.62 110.66)">0.14</text>
<text x="567.82" y="190.00" font-size="9.5" text-anchor="start" fill="#222" transform="rotate(45 567.82 190.00)">Pancreas</text>
<line x1="584.85" y1="179.20" x2="584.85" y2="182.50" stroke="#777" stroke-width="1"/>
<circle cx="584.85" cy="117.76" r="3.9" fill="#f0b030" stroke="#444" stroke-width="0.8"/>
<text x="583.65" y="110.66" font-size="9.5" text-anchor="start" fill="#222" transform="rotate(-45 583.65 110.66)">0.14</text>
<text x="580.85" y="190.00" font-size="9.5" text-anchor="start" fill="#222" transform="rotate(45 580.85 190.00)">Mesothelium</text>
<line x1="597.88" y1="179.20" x2="597.88" y2="182.50" stroke="#777" stroke-width="1"/>
<circle cx="597.88" cy="124.00" r="3.9" fill="#ffffff" stroke="#444" stroke-width="0.8"/>
<text x="596.68" y="116.90" font-size="9.5" text-anchor="start" fill="#222" transform="rotate(-45 596.68 116.90)">0.075</text>
<text x="593.88" y="190.00" font-size="9.5" text-anchor="start" fill="#222" transform="rotate(45 593.88 190.00)">Head Neck</text>
<line x1="610.91" y1="179.20" x2="610.91" y2="182.50" stroke="#777" stroke-width="1"/>
<circle cx="610.91" cy="126.98" r="3.9" fill="#ffffff" stroke="#444" stroke-width="0.8"/>
<text x="609.71" y="119.88" font-size="9.5" text-anchor="start" fill="#222" transform="rotate(-45 609.71 119.88)">0.044</text>
<text x="606.91" y="190.00" font-size="9.5" text-anchor="start" fill="#222" transform="rotate(45 606.91 190.00)">Blood</text>
<line x1="623.94" y1="179.20" x2="623.94" y2="182.50" stroke="#777" stroke-width="1"/>
<circle cx="623.94" cy="128.32" r="3.9" fill="#ffffff" stroke="#444" stroke-width="0.8"/>
<text x="622.74" y="121.22" font-size="9.5" text-anchor="start" fill="#222" transform="rotate(-45 622.74 121.22)">0.03</text>
<text x="619.94" y="190.00" font-size="9.5" text-anchor="start" fill="#222" transform="rotate(45 619.94 190.00)">Kidney</text>
<line x1="636.97" y1="179.20" x2="636.97" y2="182.50" stroke="#777" stroke-width="1"/>
<circle cx="636.97" cy="132.16" r="3.9" fill="#f2f2f2" stroke="#444" stroke-width="0.8"/>
<text x="635.77" y="125.06" font-size="9.5" text-anchor="start" fill="#222" transform="rotate(-45 635.77 125.06)">-0.01</text>
<text x="632.97" y="190.00" font-size="9.5" text-anchor="start" fill="#222" transform="rotate(45 632.97 190.00)">Bowel</text>
<line x1="650.00" y1="179.20" x2="650.00" y2="182.50" stroke="#777" stroke-width="1"/>
<circle cx="650.00" cy="138.11" r="3.9" fill="#f2f2f2" stroke="#444" stroke-width="0.8"/>
<text x="648.80" y="131.01" font-size="9.5" text-anchor="start" fill="#222" transform="rotate(-45 648.80 131.01)">-0.072</text>
<text x="646.00" y="190.00" font-size="9.5" text-anchor="start" fill="#222" transform="rotate(45 646.00 190.00)">Uterus</text>
<line x1="663.03" y1="179.20" x2="663.03" y2="182.50" stroke="#777" stroke-width="1"/>
<circle cx="663.03" cy="161.92" r="3.9" fill="#999999" stroke="#444" stroke-width="0.8"/>
<text x="661.83" y="154.82" font-size="9.5" text-anchor="start" fill="#222" transform="rotate(-45 661.83 154.82)">-0.32</text>
<text x="659.03" y="190.00" font-size="9.5" text-anchor="start" fill="#222" transform="rotate(45 659.03 190.00)">Biliary</text>
<line x1="381.40" y1="268.00" x2="381.40" y2="382.20" stroke="#777" stroke-width="1"/>
<line x1="381.40" y1="382.20" x2="671.70" y2="382.20" stroke="#777" stroke-width="1"/>
<line x1="377.90" y1="382.20" x2="381.40" y2="382.20" stroke="#777" stroke-width="1"/>
<text x="376.00" y="386.10" font-size="10" text-anchor="end" fill="#222">5</text>
<line x1="377.90" y1="353.63" x2="381.40" y2="353.63" stroke="#777" stroke-width="1"/>
<text x="376.00" y="357.53" font-size="10" text-anchor="end" fill="#222">6</text>
<line x1="377.90" y1="325.06" x2="381.40" y2="325.06" stroke="#777" stroke-width="1"/>
<text x="376.00" y="328.96" font-size="10" text-anchor="end" fill="#222">7</text>
<line x1="377.90" y1="296.49" x2="381.40" y2="296.49" stroke="#777" stroke-width="1"/>
<text x="376.00" y="300.39" font-size="10" text-anchor="end" fill="#222">8</text>
<line x1="377.90" y1="267.92" x2="381.40" y2="267.92" stroke="#777" stroke-width="1"/>
<text x="376.00" y="271.82" font-size="10" text-anchor="end" fill="#222">9</text>
<text font-size="11.4" fill="#222" text-anchor="middle" transform="translate(354.4 325) rotate(-90)">RepID Expression (Log2)</text>
<line x1="393.30" y1="283.63" x2="393.30" y2="312.20" stroke="#3c3c3c" stroke-width="0.85"/>
<line x1="393.30" y1="327.92" x2="393.30" y2="339.34" stroke="#3c3c3c" stroke-width="0.85"/>
<line x1="389.80" y1="283.63" x2="396.80" y2="283.63" stroke="#3c3c3c" stroke-width="0.85"/>
<line x1="389.80" y1="339.34" x2="396.80" y2="339.34" stroke="#3c3c3c" stroke-width="0.85"/>
<rect x="387.00" y="312.20" width="12.60" height="15.71" fill="#d4d4d4" stroke="#333" stroke-width="0.8"/>
<line x1="387.00" y1="320.20" x2="399.60" y2="320.20" stroke="#222" stroke-width="1"/>
<line x1="393.30" y1="382.20" x2="393.30" y2="385.00" stroke="#777" stroke-width="1"/>
<text x="388.30" y="395.00" font-size="9.5" text-anchor="start" fill="#222" transform="rotate(45 388.30 395.00)">NE</text>
<line x1="412.25" y1="299.35" x2="412.25" y2="327.35" stroke="#3c3c3c" stroke-width="0.85"/>
<line x1="412.25" y1="340.20" x2="412.25" y2="376.49" stroke="#3c3c3c" stroke-width="0.85"/>
<line x1="408.75" y1="299.35" x2="415.75" y2="299.35" stroke="#3c3c3c" stroke-width="0.85"/>
<line x1="408.75" y1="376.49" x2="415.75" y2="376.49" stroke="#3c3c3c" stroke-width="0.85"/>
<rect x="405.95" y="327.35" width="12.60" height="12.86" fill="#d4d4d4" stroke="#333" stroke-width="0.8"/>
<line x1="405.95" y1="333.63" x2="418.55" y2="333.63" stroke="#222" stroke-width="1"/>
<line x1="412.25" y1="382.20" x2="412.25" y2="385.00" stroke="#777" stroke-width="1"/>
<text x="412.25" y="298.65" font-size="9" text-anchor="middle" fill="#111" font-weight="bold">****</text>
<text x="407.25" y="395.00" font-size="9.5" text-anchor="start" fill="#222" transform="rotate(45 407.25 395.00)">non-NE</text>
<line x1="431.20" y1="283.63" x2="431.20" y2="306.49" stroke="#3c3c3c" stroke-width="0.85"/>
<line x1="431.20" y1="327.92" x2="431.20" y2="339.34" stroke="#3c3c3c" stroke-width="0.85"/>
<line x1="427.70" y1="283.63" x2="434.70" y2="283.63" stroke="#3c3c3c" stroke-width="0.85"/>
<line x1="427.70" y1="339.34" x2="434.70" y2="339.34" stroke="#3c3c3c" stroke-width="0.85"/>
<rect x="424.90" y="306.49" width="12.60" height="21.43" fill="#808080" stroke="#333" stroke-width="0.8"/>
<line x1="424.90" y1="319.92" x2="437.50" y2="319.92" stroke="#222" stroke-width="1"/>
<line x1="431.20" y1="382.20" x2="431.20" y2="385.00" stroke="#777" stroke-width="1"/>
<text x="426.20" y="395.00" font-size="9.5" text-anchor="start" fill="#222" transform="rotate(45 426.20 395.00)">SCLC</text>
<line x1="450.15" y1="295.63" x2="450.15" y2="329.06" stroke="#3c3c3c" stroke-width="0.85"/>
<line x1="450.15" y1="342.20" x2="450.15" y2="366.49" stroke="#3c3c3c" stroke-width="0.85"/>
<line x1="446.65" y1="295.63" x2="453.65" y2="295.63" stroke="#3c3c3c" stroke-width="0.85"/>
<line x1="446.65" y1="366.49" x2="453.65" y2="366.49" stroke="#3c3c3c" stroke-width="0.85"/>
<rect x="443.85" y="329.06" width="12.60" height="13.14" fill="#808080" stroke="#333" stroke-width="0.8"/>
<line x1="443.85" y1="334.49" x2="456.45" y2="334.49" stroke="#222" stroke-width="1"/>
<line x1="450.15" y1="382.20" x2="450.15" y2="385.00" stroke="#777" stroke-width="1"/>
<text x="450.15" y="294.93" font-size="9" text-anchor="middle" fill="#111" font-weight="bold">****</text>
<text x="445.15" y="395.00" font-size="9.5" text-anchor="start" fill="#222" transform="rotate(45 445.15 395.00)">NSCLC</text>
<line x1="469.10" y1="299.35" x2="469.10" y2="326.49" stroke="#3c3c3c" stroke-width="0.85"/>
<line x1="469.10" y1="339.92" x2="469.10" y2="376.49" stroke="#3c3c3c" stroke-width="0.85"/>
<line x1="465.60" y1="299.35" x2="472.60" y2="299.35" stroke="#3c3c3c" stroke-width="0.85"/>
<line x1="465.60" y1="376.49" x2="472.60" y2="376.49" stroke="#3c3c3c" stroke-width="0.85"/>
<rect x="462.80" y="326.49" width="12.60" height="13.43" fill="#808080" stroke="#333" stroke-width="0.8"/>
<line x1="462.80" y1="332.77" x2="475.40" y2="332.77" stroke="#222" stroke-width="1"/>
<line x1="469.10" y1="382.20" x2="469.10" y2="385.00" stroke="#777" stroke-width="1"/>
<text x="469.10" y="298.65" font-size="9" text-anchor="middle" fill="#111" font-weight="bold">****</text>
<text x="464.10" y="395.00" font-size="9.5" text-anchor="start" fill="#222" transform="rotate(45 464.10 395.00)">Others</text>
<line x1="488.05" y1="283.06" x2="488.05" y2="304.20" stroke="#3c3c3c" stroke-width="0.85"/>
<line x1="488.05" y1="327.06" x2="488.05" y2="338.49" stroke="#3c3c3c" stroke-width="0.85"/>
<line x1="484.55" y1="283.06" x2="491.55" y2="283.06" stroke="#3c3c3c" stroke-width="0.85"/>
<line x1="484.55" y1="338.49" x2="491.55" y2="338.49" stroke="#3c3c3c" stroke-width="0.85"/>
<rect x="481.75" y="304.20" width="12.60" height="22.86" fill="#1866b4" stroke="#333" stroke-width="0.8"/>
<line x1="481.75" y1="317.63" x2="494.35" y2="317.63" stroke="#222" stroke-width="1"/>
<line x1="488.05" y1="382.20" x2="488.05" y2="385.00" stroke="#777" stroke-width="1"/>
<text x="483.05" y="395.00" font-size="9.5" text-anchor="start" fill="#222" transform="rotate(45 483.05 395.00)">NE SCLC</text>
<line x1="507.00" y1="311.06" x2="507.00" y2="315.06" stroke="#3c3c3c" stroke-width="0.85"/>
<line x1="507.00" y1="334.20" x2="507.00" y2="336.49" stroke="#3c3c3c" stroke-width="0.85"/>
<line x1="503.50" y1="311.06" x2="510.50" y2="311.06" stroke="#3c3c3c" stroke-width="0.85"/>
<line x1="503.50" y1="336.49" x2="510.50" y2="336.49" stroke="#3c3c3c" stroke-width="0.85"/>
<rect x="500.70" y="315.06" width="12.60" height="19.14" fill="#1866b4" stroke="#333" stroke-width="0.8"/>
<line x1="500.70" y1="324.49" x2="513.30" y2="324.49" stroke="#222" stroke-width="1"/>
<line x1="507.00" y1="382.20" x2="507.00" y2="385.00" stroke="#777" stroke-width="1"/>
<text x="502.00" y="395.00" font-size="9.5" text-anchor="start" fill="#222" transform="rotate(45 502.00 395.00)">non-NE SCLC</text>
<line x1="525.95" y1="295.63" x2="525.95" y2="319.06" stroke="#3c3c3c" stroke-width="0.85"/>
<line x1="525.95" y1="328.49" x2="525.95" y2="337.35" stroke="#3c3c3c" stroke-width="0.85"/>
<line x1="522.45" y1="295.63" x2="529.45" y2="295.63" stroke="#3c3c3c" stroke-width="0.85"/>
<line x1="522.45" y1="337.35" x2="529.45" y2="337.35" stroke="#3c3c3c" stroke-width="0.85"/>
<rect x="519.65" y="319.06" width="12.60" height="9.43" fill="#1866b4" stroke="#333" stroke-width="0.8"/>
<line x1="519.65" y1="324.49" x2="532.25" y2="324.49" stroke="#222" stroke-width="1"/>
<line x1="525.95" y1="382.20" x2="525.95" y2="385.00" stroke="#777" stroke-width="1"/>
<text x="520.95" y="395.00" font-size="9.5" text-anchor="start" fill="#222" transform="rotate(45 520.95 395.00)">NE NSCLC</text>
<line x1="544.90" y1="313.63" x2="544.90" y2="329.35" stroke="#3c3c3c" stroke-width="0.85"/>
<line x1="544.90" y1="341.92" x2="544.90" y2="366.77" stroke="#3c3c3c" stroke-width="0.85"/>
<line x1="541.40" y1="313.63" x2="548.40" y2="313.63" stroke="#3c3c3c" stroke-width="0.85"/>
<line x1="541.40" y1="366.77" x2="548.40" y2="366.77" stroke="#3c3c3c" stroke-width="0.85"/>
<rect x="538.60" y="329.35" width="12.60" height="12.57" fill="#1866b4" stroke="#333" stroke-width="0.8"/>
<line x1="538.60" y1="335.35" x2="551.20" y2="335.35" stroke="#222" stroke-width="1"/>
<line x1="544.90" y1="382.20" x2="544.90" y2="385.00" stroke="#777" stroke-width="1"/>
<text x="544.90" y="312.93" font-size="9" text-anchor="middle" fill="#111" font-weight="bold">****</text>
<text x="539.90" y="395.00" font-size="9.5" text-anchor="start" fill="#222" transform="rotate(45 539.90 395.00)">non-NE NSCLC</text>
<line x1="563.85" y1="308.49" x2="563.85" y2="315.35" stroke="#3c3c3c" stroke-width="0.85"/>
<line x1="563.85" y1="324.77" x2="563.85" y2="338.49" stroke="#3c3c3c" stroke-width="0.85"/>
<line x1="560.35" y1="308.49" x2="567.35" y2="308.49" stroke="#3c3c3c" stroke-width="0.85"/>
<line x1="560.35" y1="338.49" x2="567.35" y2="338.49" stroke="#3c3c3c" stroke-width="0.85"/>
<rect x="557.55" y="315.35" width="12.60" height="9.43" fill="#1866b4" stroke="#333" stroke-width="0.8"/>
<line x1="557.55" y1="320.49" x2="570.15" y2="320.49" stroke="#222" stroke-width="1"/>
<line x1="563.85" y1="382.20" x2="563.85" y2="385.00" stroke="#777" stroke-width="1"/>
<text x="558.85" y="395.00" font-size="9.5" text-anchor="start" fill="#222" transform="rotate(45 558.85 395.00)">NE Others</text>
<line x1="582.80" y1="299.63" x2="582.80" y2="326.49" stroke="#3c3c3c" stroke-width="0.85"/>
<line x1="582.80" y1="339.34" x2="582.80" y2="375.63" stroke="#3c3c3c" stroke-width="0.85"/>
<line x1="579.30" y1="299.63" x2="586.30" y2="299.63" stroke="#3c3c3c" stroke-width="0.85"/>
<line x1="579.30" y1="375.63" x2="586.30" y2="375.63" stroke="#3c3c3c" stroke-width="0.85"/>
<rect x="576.50" y="326.49" width="12.60" height="12.86" fill="#1866b4" stroke="#333" stroke-width="0.8"/>
<line x1="576.50" y1="333.06" x2="589.10" y2="333.06" stroke="#222" stroke-width="1"/>
<line x1="582.80" y1="382.20" x2="582.80" y2="385.00" stroke="#777" stroke-width="1"/>
<text x="582.80" y="298.93" font-size="9" text-anchor="middle" fill="#111" font-weight="bold">****</text>
<text x="577.80" y="395.00" font-size="9.5" text-anchor="start" fill="#222" transform="rotate(45 577.80 395.00)">non-NE Others</text>
<line x1="601.75" y1="283.06" x2="601.75" y2="298.49" stroke="#3c3c3c" stroke-width="0.85"/>
<line x1="601.75" y1="325.92" x2="601.75" y2="338.49" stroke="#3c3c3c" stroke-width="0.85"/>
<line x1="598.25" y1="283.06" x2="605.25" y2="283.06" stroke="#3c3c3c" stroke-width="0.85"/>
<line x1="598.25" y1="338.49" x2="605.25" y2="338.49" stroke="#3c3c3c" stroke-width="0.85"/>
<rect x="595.45" y="298.49" width="12.60" height="27.43" fill="#3fa4dc" stroke="#333" stroke-width="0.8"/>
<line x1="595.45" y1="314.20" x2="608.05" y2="314.20" stroke="#222" stroke-width="1"/>
<line x1="601.75" y1="382.20" x2="601.75" y2="385.00" stroke="#777" stroke-width="1"/>
<text x="596.75" y="395.00" font-size="9.5" text-anchor="start" fill="#222" transform="rotate(45 596.75 395.00)">ASCL1</text>
<line x1="620.70" y1="300.20" x2="620.70" y2="315.92" stroke="#3c3c3c" stroke-width="0.85"/>
<line x1="620.70" y1="330.49" x2="620.70" y2="335.06" stroke="#3c3c3c" stroke-width="0.85"/>
<line x1="617.20" y1="300.20" x2="624.20" y2="300.20" stroke="#3c3c3c" stroke-width="0.85"/>
<line x1="617.20" y1="335.06" x2="624.20" y2="335.06" stroke="#3c3c3c" stroke-width="0.85"/>
<rect x="614.40" y="315.92" width="12.60" height="14.57" fill="#3fa4dc" stroke="#333" stroke-width="0.8"/>
<line x1="614.40" y1="318.49" x2="627.00" y2="318.49" stroke="#222" stroke-width="1"/>
<line x1="620.70" y1="382.20" x2="620.70" y2="385.00" stroke="#777" stroke-width="1"/>
<text x="615.70" y="395.00" font-size="9.5" text-anchor="start" fill="#222" transform="rotate(45 615.70 395.00)">NEUROD1</text>
<line x1="639.65" y1="311.06" x2="639.65" y2="311.06" stroke="#3c3c3c" stroke-width="0.85"/>
<line x1="639.65" y1="321.63" x2="639.65" y2="323.35" stroke="#3c3c3c" stroke-width="0.85"/>
<line x1="636.15" y1="311.06" x2="643.15" y2="311.06" stroke="#3c3c3c" stroke-width="0.85"/>
<line x1="636.15" y1="323.35" x2="643.15" y2="323.35" stroke="#3c3c3c" stroke-width="0.85"/>
<rect x="633.35" y="311.06" width="12.60" height="10.57" fill="#3fa4dc" stroke="#333" stroke-width="0.8"/>
<line x1="633.35" y1="313.63" x2="645.95" y2="313.63" stroke="#222" stroke-width="1"/>
<line x1="639.65" y1="382.20" x2="639.65" y2="385.00" stroke="#777" stroke-width="1"/>
<text x="634.65" y="395.00" font-size="9.5" text-anchor="start" fill="#222" transform="rotate(45 634.65 395.00)">POU2F3</text>
<line x1="658.60" y1="316.20" x2="658.60" y2="321.92" stroke="#3c3c3c" stroke-width="0.85"/>
<line x1="658.60" y1="334.49" x2="658.60" y2="336.49" stroke="#3c3c3c" stroke-width="0.85"/>
<line x1="655.10" y1="316.20" x2="662.10" y2="316.20" stroke="#3c3c3c" stroke-width="0.85"/>
<line x1="655.10" y1="336.49" x2="662.10" y2="336.49" stroke="#3c3c3c" stroke-width="0.85"/>
<rect x="652.30" y="321.92" width="12.60" height="12.57" fill="#3fa4dc" stroke="#333" stroke-width="0.8"/>
<line x1="652.30" y1="325.63" x2="664.90" y2="325.63" stroke="#222" stroke-width="1"/>
<line x1="658.60" y1="382.20" x2="658.60" y2="385.00" stroke="#777" stroke-width="1"/>
<text x="658.60" y="315.50" font-size="9" text-anchor="middle" fill="#111" font-weight="bold">*</text>
<text x="653.60" y="395.00" font-size="9.5" text-anchor="start" fill="#222" transform="rotate(45 653.60 395.00)">YAP1</text>
<line x1="507.00" y1="264.90" x2="582.80" y2="264.90" stroke="#999" stroke-width="0.9"/>
<line x1="582.80" y1="264.90" x2="582.80" y2="289.60" stroke="#999" stroke-width="0.9"/>
<line x1="507.00" y1="272.50" x2="563.85" y2="272.50" stroke="#999" stroke-width="0.9"/>
<line x1="563.85" y1="272.50" x2="563.85" y2="289.60" stroke="#999" stroke-width="0.9"/>
<line x1="507.00" y1="279.10" x2="544.90" y2="279.10" stroke="#999" stroke-width="0.9"/>
<line x1="544.90" y1="279.10" x2="544.90" y2="289.60" stroke="#999" stroke-width="0.9"/>
<line x1="507.00" y1="286.10" x2="525.95" y2="286.10" stroke="#999" stroke-width="0.9"/>
<line x1="525.95" y1="286.10" x2="525.95" y2="289.60" stroke="#999" stroke-width="0.9"/>
<line x1="507.00" y1="264.90" x2="507.00" y2="289.60" stroke="#999" stroke-width="0.9"/>
<text x="545.00" y="264.60" font-size="9" text-anchor="middle" fill="#111" font-weight="bold">**</text>
<text x="535.50" y="270.80" font-size="9.3" text-anchor="middle" fill="#222">n.s.</text>
<text x="526.30" y="279.60" font-size="9" text-anchor="middle" fill="#111" font-weight="bold">***</text>
<text x="516.40" y="285.00" font-size="9.3" text-anchor="middle" fill="#222">n.s.</text>
<line x1="381.10" y1="465.00" x2="381.10" y2="583.40" stroke="#777" stroke-width="1"/>
<line x1="381.10" y1="583.40" x2="671.70" y2="583.40" stroke="#777" stroke-width="1"/>
<line x1="377.60" y1="583.40" x2="381.10" y2="583.40" stroke="#777" stroke-width="1"/>
<text x="376.00" y="587.30" font-size="10" text-anchor="end" fill="#222">0</text>
<line x1="377.60" y1="559.72" x2="381.10" y2="559.72" stroke="#777" stroke-width="1"/>
<text x="376.00" y="563.62" font-size="10" text-anchor="end" fill="#222">2</text>
<line x1="377.60" y1="536.04" x2="381.10" y2="536.04" stroke="#777" stroke-width="1"/>
<text x="376.00" y="539.94" font-size="10" text-anchor="end" fill="#222">4</text>
<line x1="377.60" y1="512.36" x2="381.10" y2="512.36" stroke="#777" stroke-width="1"/>
<text x="376.00" y="516.26" font-size="10" text-anchor="end" fill="#222">6</text>
<line x1="377.60" y1="488.68" x2="381.10" y2="488.68" stroke="#777" stroke-width="1"/>
<text x="376.00" y="492.58" font-size="10" text-anchor="end" fill="#222">8</text>
<line x1="377.60" y1="465.00" x2="381.10" y2="465.00" stroke="#777" stroke-width="1"/>
<text x="376.00" y="468.90" font-size="10" text-anchor="end" fill="#222">10</text>
<text font-size="11.4" fill="#222" text-anchor="middle" transform="translate(354 523.3) rotate(-90)">RepID transcripts (Log2)</text>
<rect x="390.20" y="568.50" width="17.40" height="14.90" fill="#d4d4d4" stroke="#333" stroke-width="0.8"/>
<line x1="398.90" y1="583.40" x2="398.90" y2="586.00" stroke="#777" stroke-width="1"/>
<circle cx="392.90" cy="568.30" r="1.7" fill="#ffffff" stroke="#222" stroke-width="0.9"/>
<circle cx="394.90" cy="571.00" r="1.7" fill="#ffffff" stroke="#222" stroke-width="0.9"/>
<circle cx="397.90" cy="569.50" r="1.7" fill="#ffffff" stroke="#222" stroke-width="0.9"/>
<circle cx="400.90" cy="570.00" r="1.7" fill="#ffffff" stroke="#222" stroke-width="0.9"/>
<circle cx="403.40" cy="570.50" r="1.7" fill="#ffffff" stroke="#222" stroke-width="0.9"/>
<circle cx="405.90" cy="571.00" r="1.7" fill="#ffffff" stroke="#222" stroke-width="0.9"/>
<circle cx="395.90" cy="575.00" r="1.7" fill="#ffffff" stroke="#222" stroke-width="0.9"/>
<circle cx="398.90" cy="574.50" r="1.7" fill="#ffffff" stroke="#222" stroke-width="0.9"/>
<circle cx="401.90" cy="575.00" r="1.7" fill="#ffffff" stroke="#222" stroke-width="0.9"/>
<circle cx="393.90" cy="569.00" r="1.7" fill="#ffffff" stroke="#222" stroke-width="0.9"/>
<text x="393.80" y="594.20" font-size="9.8" text-anchor="start" fill="#222" transform="rotate(45 393.80 594.20)">U2OS</text>
<rect x="411.37" y="572.50" width="17.40" height="10.90" fill="#d4d4d4" stroke="#333" stroke-width="0.8"/>
<line x1="420.07" y1="583.40" x2="420.07" y2="586.00" stroke="#777" stroke-width="1"/>
<circle cx="413.17" cy="571.50" r="1.7" fill="#ffffff" stroke="#222" stroke-width="0.9"/>
<circle cx="416.27" cy="568.30" r="1.7" fill="#ffffff" stroke="#222" stroke-width="0.9"/>
<circle cx="417.07" cy="571.50" r="1.7" fill="#ffffff" stroke="#222" stroke-width="0.9"/>
<circle cx="420.37" cy="571.90" r="1.7" fill="#ffffff" stroke="#222" stroke-width="0.9"/>
<circle cx="423.57" cy="571.90" r="1.7" fill="#ffffff" stroke="#222" stroke-width="0.9"/>
<circle cx="427.47" cy="571.90" r="1.7" fill="#ffffff" stroke="#222" stroke-width="0.9"/>
<circle cx="412.77" cy="575.70" r="1.7" fill="#ffffff" stroke="#222" stroke-width="0.9"/>
<circle cx="420.07" cy="575.20" r="1.7" fill="#ffffff" stroke="#222" stroke-width="0.9"/>
<circle cx="424.67" cy="574.40" r="1.7" fill="#ffffff" stroke="#222" stroke-width="0.9"/>
<circle cx="427.47" cy="577.00" r="1.7" fill="#ffffff" stroke="#222" stroke-width="0.9"/>
<text x="414.97" y="594.20" font-size="9.8" text-anchor="start" fill="#222" transform="rotate(45 414.97 594.20)">HCT116</text>
<rect x="432.54" y="569.00" width="17.40" height="14.40" fill="#d4d4d4" stroke="#333" stroke-width="0.8"/>
<line x1="441.24" y1="583.40" x2="441.24" y2="586.00" stroke="#777" stroke-width="1"/>
<circle cx="433.64" cy="564.00" r="1.7" fill="#ffffff" stroke="#222" stroke-width="0.9"/>
<circle cx="438.34" cy="564.00" r="1.7" fill="#ffffff" stroke="#222" stroke-width="0.9"/>
<circle cx="441.24" cy="564.70" r="1.7" fill="#ffffff" stroke="#222" stroke-width="0.9"/>
<circle cx="444.54" cy="565.00" r="1.7" fill="#ffffff" stroke="#222" stroke-width="0.9"/>
<circle cx="448.74" cy="564.70" r="1.7" fill="#ffffff" stroke="#222" stroke-width="0.9"/>
<circle cx="438.64" cy="567.60" r="1.7" fill="#ffffff" stroke="#222" stroke-width="0.9"/>
<circle cx="434.04" cy="572.20" r="1.7" fill="#ffffff" stroke="#222" stroke-width="0.9"/>
<circle cx="434.04" cy="575.70" r="1.7" fill="#ffffff" stroke="#222" stroke-width="0.9"/>
<circle cx="443.44" cy="573.90" r="1.7" fill="#ffffff" stroke="#222" stroke-width="0.9"/>
<circle cx="448.74" cy="572.90" r="1.7" fill="#ffffff" stroke="#222" stroke-width="0.9"/>
<text x="436.14" y="594.20" font-size="9.8" text-anchor="start" fill="#222" transform="rotate(45 436.14 594.20)">K562</text>
<rect x="453.71" y="571.50" width="17.40" height="11.90" fill="#d4d4d4" stroke="#333" stroke-width="0.8"/>
<line x1="462.41" y1="583.40" x2="462.41" y2="586.00" stroke="#777" stroke-width="1"/>
<circle cx="454.81" cy="569.20" r="1.7" fill="#ffffff" stroke="#222" stroke-width="0.9"/>
<circle cx="458.41" cy="570.90" r="1.7" fill="#ffffff" stroke="#222" stroke-width="0.9"/>
<circle cx="461.41" cy="571.50" r="1.7" fill="#ffffff" stroke="#222" stroke-width="0.9"/>
<circle cx="464.41" cy="571.30" r="1.7" fill="#ffffff" stroke="#222" stroke-width="0.9"/>
<circle cx="467.41" cy="571.30" r="1.7" fill="#ffffff" stroke="#222" stroke-width="0.9"/>
<circle cx="470.01" cy="571.30" r="1.7" fill="#ffffff" stroke="#222" stroke-width="0.9"/>
<circle cx="460.81" cy="577.50" r="1.7" fill="#ffffff" stroke="#222" stroke-width="0.9"/>
<circle cx="463.41" cy="577.00" r="1.7" fill="#ffffff" stroke="#222" stroke-width="0.9"/>
<text x="457.31" y="594.20" font-size="9.8" text-anchor="start" fill="#222" transform="rotate(45 457.31 594.20)">DU145</text>
<rect x="474.88" y="561.40" width="17.40" height="22.00" fill="#d4d4d4" stroke="#333" stroke-width="0.8"/>
<line x1="483.58" y1="561.40" x2="483.58" y2="556.40" stroke="#333" stroke-width="0.8"/>
<line x1="478.88" y1="556.40" x2="488.28" y2="556.40" stroke="#333" stroke-width="0.8"/>
<line x1="483.58" y1="583.40" x2="483.58" y2="586.00" stroke="#777" stroke-width="1"/>
<circle cx="476.28" cy="557.00" r="1.7" fill="#ffffff" stroke="#222" stroke-width="0.9"/>
<circle cx="480.98" cy="556.90" r="1.7" fill="#ffffff" stroke="#222" stroke-width="0.9"/>
<circle cx="486.28" cy="555.00" r="1.7" fill="#ffffff" stroke="#222" stroke-width="0.9"/>
<circle cx="491.38" cy="556.90" r="1.7" fill="#ffffff" stroke="#222" stroke-width="0.9"/>
<circle cx="486.28" cy="562.90" r="1.7" fill="#ffffff" stroke="#222" stroke-width="0.9"/>
<circle cx="476.28" cy="564.60" r="1.7" fill="#ffffff" stroke="#222" stroke-width="0.9"/>
<circle cx="476.28" cy="568.30" r="1.7" fill="#ffffff" stroke="#222" stroke-width="0.9"/>
<circle cx="486.28" cy="567.90" r="1.7" fill="#ffffff" stroke="#222" stroke-width="0.9"/>
<circle cx="491.38" cy="565.40" r="1.7" fill="#ffffff" stroke="#222" stroke-width="0.9"/>
<text x="483.58" y="551.50" font-size="9" text-anchor="middle" fill="#111" font-weight="bold">****</text>
<text x="478.48" y="594.20" font-size="9.8" text-anchor="start" fill="#222" transform="rotate(45 478.48 594.20)">VA13/WI38</text>
<rect x="496.05" y="555.00" width="17.40" height="28.40" fill="#d4d4d4" stroke="#333" stroke-width="0.8"/>
<line x1="504.75" y1="555.00" x2="504.75" y2="547.10" stroke="#333" stroke-width="0.8"/>
<line x1="500.05" y1="547.10" x2="509.45" y2="547.10" stroke="#333" stroke-width="0.8"/>
<line x1="504.75" y1="583.40" x2="504.75" y2="586.00" stroke="#777" stroke-width="1"/>
<circle cx="504.75" cy="536.00" r="1.7" fill="#ffffff" stroke="#222" stroke-width="0.9"/>
<circle cx="497.65" cy="553.60" r="1.7" fill="#ffffff" stroke="#222" stroke-width="0.9"/>
<circle cx="502.35" cy="554.60" r="1.7" fill="#ffffff" stroke="#222" stroke-width="0.9"/>
<circle cx="507.05" cy="553.60" r="1.7" fill="#ffffff" stroke="#222" stroke-width="0.9"/>
<circle cx="507.35" cy="557.10" r="1.7" fill="#ffffff" stroke="#222" stroke-width="0.9"/>
<circle cx="512.35" cy="555.70" r="1.7" fill="#ffffff" stroke="#222" stroke-width="0.9"/>
<circle cx="501.85" cy="562.10" r="1.7" fill="#ffffff" stroke="#222" stroke-width="0.9"/>
<circle cx="507.05" cy="562.60" r="1.7" fill="#ffffff" stroke="#222" stroke-width="0.9"/>
<circle cx="504.75" cy="566.00" r="1.7" fill="#ffffff" stroke="#222" stroke-width="0.9"/>
<text x="504.75" y="532.70" font-size="9" text-anchor="middle" fill="#111" font-weight="bold">****</text>
<text x="499.65" y="594.20" font-size="9.8" text-anchor="start" fill="#222" transform="rotate(45 499.65 594.20)">HEK293</text>
<rect x="517.22" y="533.30" width="17.40" height="50.10" fill="#f07f1e" stroke="#333" stroke-width="0.8"/>
<line x1="525.92" y1="533.30" x2="525.92" y2="524.30" stroke="#333" stroke-width="0.8"/>
<line x1="521.22" y1="524.30" x2="530.62" y2="524.30" stroke="#333" stroke-width="0.8"/>
<line x1="525.92" y1="583.40" x2="525.92" y2="586.00" stroke="#777" stroke-width="1"/>
<circle cx="525.92" cy="518.60" r="1.7" fill="#ffffff" stroke="#222" stroke-width="0.9"/>
<circle cx="525.92" cy="522.90" r="1.7" fill="#ffffff" stroke="#222" stroke-width="0.9"/>
<circle cx="520.22" cy="530.70" r="1.7" fill="#ffffff" stroke="#222" stroke-width="0.9"/>
<circle cx="526.22" cy="531.40" r="1.7" fill="#ffffff" stroke="#222" stroke-width="0.9"/>
<circle cx="531.92" cy="530.00" r="1.7" fill="#ffffff" stroke="#222" stroke-width="0.9"/>
<circle cx="526.22" cy="536.00" r="1.7" fill="#ffffff" stroke="#222" stroke-width="0.9"/>
<circle cx="526.22" cy="540.00" r="1.7" fill="#ffffff" stroke="#222" stroke-width="0.9"/>
<circle cx="520.22" cy="545.00" r="1.7" fill="#ffffff" stroke="#222" stroke-width="0.9"/>
<circle cx="531.92" cy="541.70" r="1.7" fill="#ffffff" stroke="#222" stroke-width="0.9"/>
<text x="525.92" y="516.10" font-size="9" text-anchor="middle" fill="#111" font-weight="bold">****</text>
<text x="520.82" y="594.20" font-size="9.8" text-anchor="start" fill="#222" transform="rotate(45 520.82 594.20)">H69</text>
<rect x="538.39" y="557.60" width="17.40" height="25.80" fill="#f07f1e" stroke="#333" stroke-width="0.8"/>
<line x1="547.09" y1="557.60" x2="547.09" y2="553.60" stroke="#333" stroke-width="0.8"/>
<line x1="542.39" y1="553.60" x2="551.79" y2="553.60" stroke="#333" stroke-width="0.8"/>
<line x1="547.09" y1="583.40" x2="547.09" y2="586.00" stroke="#777" stroke-width="1"/>
<circle cx="544.49" cy="552.60" r="1.7" fill="#ffffff" stroke="#222" stroke-width="0.9"/>
<circle cx="549.49" cy="550.30" r="1.7" fill="#ffffff" stroke="#222" stroke-width="0.9"/>
<circle cx="549.49" cy="554.60" r="1.7" fill="#ffffff" stroke="#222" stroke-width="0.9"/>
<circle cx="539.99" cy="558.60" r="1.7" fill="#ffffff" stroke="#222" stroke-width="0.9"/>
<circle cx="544.49" cy="557.10" r="1.7" fill="#ffffff" stroke="#222" stroke-width="0.9"/>
<circle cx="549.49" cy="558.60" r="1.7" fill="#ffffff" stroke="#222" stroke-width="0.9"/>
<circle cx="554.49" cy="557.60" r="1.7" fill="#ffffff" stroke="#222" stroke-width="0.9"/>
<circle cx="544.49" cy="562.60" r="1.7" fill="#ffffff" stroke="#222" stroke-width="0.9"/>
<circle cx="549.49" cy="561.70" r="1.7" fill="#ffffff" stroke="#222" stroke-width="0.9"/>
<text x="547.09" y="548.30" font-size="9" text-anchor="middle" fill="#111" font-weight="bold">****</text>
<text x="541.99" y="594.20" font-size="9.8" text-anchor="start" fill="#222" transform="rotate(45 541.99 594.20)">H146</text>
<rect x="559.56" y="573.10" width="17.40" height="10.30" fill="#f07f1e" stroke="#333" stroke-width="0.8"/>
<line x1="568.26" y1="583.40" x2="568.26" y2="586.00" stroke="#777" stroke-width="1"/>
<circle cx="564.46" cy="568.40" r="1.7" fill="#ffffff" stroke="#222" stroke-width="0.9"/>
<circle cx="560.96" cy="576.60" r="1.7" fill="#ffffff" stroke="#222" stroke-width="0.9"/>
<circle cx="565.16" cy="573.50" r="1.7" fill="#ffffff" stroke="#222" stroke-width="0.9"/>
<circle cx="568.66" cy="574.60" r="1.7" fill="#ffffff" stroke="#222" stroke-width="0.9"/>
<circle cx="572.16" cy="569.40" r="1.7" fill="#ffffff" stroke="#222" stroke-width="0.9"/>
<circle cx="572.16" cy="572.50" r="1.7" fill="#ffffff" stroke="#222" stroke-width="0.9"/>
<circle cx="575.86" cy="572.50" r="1.7" fill="#ffffff" stroke="#222" stroke-width="0.9"/>
<circle cx="575.86" cy="576.60" r="1.7" fill="#ffffff" stroke="#222" stroke-width="0.9"/>
<circle cx="568.66" cy="571.50" r="1.7" fill="#ffffff" stroke="#222" stroke-width="0.9"/>
<text x="563.16" y="594.20" font-size="9.8" text-anchor="start" fill="#222" transform="rotate(45 563.16 594.20)">H82</text>
<rect x="580.73" y="499.60" width="17.40" height="83.80" fill="#f07f1e" stroke="#333" stroke-width="0.8"/>
<line x1="589.43" y1="499.60" x2="589.43" y2="489.30" stroke="#333" stroke-width="0.8"/>
<line x1="584.73" y1="489.30" x2="594.13" y2="489.30" stroke="#333" stroke-width="0.8"/>
<line x1="589.43" y1="583.40" x2="589.43" y2="586.00" stroke="#777" stroke-width="1"/>
<circle cx="586.53" cy="489.90" r="1.7" fill="#ffffff" stroke="#222" stroke-width="0.9"/>
<circle cx="592.33" cy="486.80" r="1.7" fill="#ffffff" stroke="#222" stroke-width="0.9"/>
<circle cx="586.53" cy="494.00" r="1.7" fill="#ffffff" stroke="#222" stroke-width="0.9"/>
<circle cx="592.33" cy="495.10" r="1.7" fill="#ffffff" stroke="#222" stroke-width="0.9"/>
<circle cx="586.53" cy="497.60" r="1.7" fill="#ffffff" stroke="#222" stroke-width="0.9"/>
<circle cx="592.33" cy="499.20" r="1.7" fill="#ffffff" stroke="#222" stroke-width="0.9"/>
<circle cx="586.53" cy="503.80" r="1.7" fill="#ffffff" stroke="#222" stroke-width="0.9"/>
<circle cx="592.33" cy="505.00" r="1.7" fill="#ffffff" stroke="#222" stroke-width="0.9"/>
<circle cx="589.43" cy="523.00" r="1.7" fill="#ffffff" stroke="#222" stroke-width="0.9"/>
<text x="589.43" y="485.00" font-size="9" text-anchor="middle" fill="#111" font-weight="bold">****</text>
<text x="584.33" y="594.20" font-size="9.8" text-anchor="start" fill="#222" transform="rotate(45 584.33 594.20)">H209</text>
<rect x="601.90" y="490.50" width="17.40" height="92.90" fill="#808080" stroke="#333" stroke-width="0.8"/>
<line x1="610.60" y1="490.50" x2="610.60" y2="479.60" stroke="#333" stroke-width="0.8"/>
<line x1="605.90" y1="479.60" x2="615.30" y2="479.60" stroke="#333" stroke-width="0.8"/>
<line x1="610.60" y1="583.40" x2="610.60" y2="586.00" stroke="#777" stroke-width="1"/>
<circle cx="607.90" cy="477.50" r="1.7" fill="#ffffff" stroke="#222" stroke-width="0.9"/>
<circle cx="614.10" cy="475.50" r="1.7" fill="#ffffff" stroke="#222" stroke-width="0.9"/>
<circle cx="607.90" cy="483.70" r="1.7" fill="#ffffff" stroke="#222" stroke-width="0.9"/>
<circle cx="614.10" cy="485.80" r="1.7" fill="#ffffff" stroke="#222" stroke-width="0.9"/>
<circle cx="607.90" cy="488.90" r="1.7" fill="#ffffff" stroke="#222" stroke-width="0.9"/>
<circle cx="614.10" cy="492.00" r="1.7" fill="#ffffff" stroke="#222" stroke-width="0.9"/>
<circle cx="607.90" cy="499.60" r="1.7" fill="#ffffff" stroke="#222" stroke-width="0.9"/>
<circle cx="614.10" cy="501.70" r="1.7" fill="#ffffff" stroke="#222" stroke-width="0.9"/>
<circle cx="610.60" cy="507.10" r="1.7" fill="#ffffff" stroke="#222" stroke-width="0.9"/>
<text x="610.60" y="473.10" font-size="9" text-anchor="middle" fill="#111" font-weight="bold">****</text>
<text x="605.50" y="594.20" font-size="9.8" text-anchor="start" fill="#222" transform="rotate(45 605.50 594.20)">H211</text>
<rect x="623.07" y="550.20" width="17.40" height="33.20" fill="#808080" stroke="#333" stroke-width="0.8"/>
<line x1="631.77" y1="583.40" x2="631.77" y2="586.00" stroke="#777" stroke-width="1"/>
<circle cx="626.57" cy="544.60" r="1.7" fill="#ffffff" stroke="#222" stroke-width="0.9"/>
<circle cx="631.77" cy="546.30" r="1.7" fill="#ffffff" stroke="#222" stroke-width="0.9"/>
<circle cx="637.57" cy="546.30" r="1.7" fill="#ffffff" stroke="#222" stroke-width="0.9"/>
<circle cx="626.57" cy="548.80" r="1.7" fill="#ffffff" stroke="#222" stroke-width="0.9"/>
<circle cx="631.77" cy="550.80" r="1.7" fill="#ffffff" stroke="#222" stroke-width="0.9"/>
<circle cx="637.57" cy="549.20" r="1.7" fill="#ffffff" stroke="#222" stroke-width="0.9"/>
<circle cx="626.57" cy="555.40" r="1.7" fill="#ffffff" stroke="#222" stroke-width="0.9"/>
<circle cx="632.17" cy="553.90" r="1.7" fill="#ffffff" stroke="#222" stroke-width="0.9"/>
<circle cx="637.57" cy="553.90" r="1.7" fill="#ffffff" stroke="#222" stroke-width="0.9"/>
<text x="631.77" y="543.40" font-size="9" text-anchor="middle" fill="#111" font-weight="bold">****</text>
<text x="626.67" y="594.20" font-size="9.8" text-anchor="start" fill="#222" transform="rotate(45 626.67 594.20)">DMS114</text>
<rect x="644.24" y="570.40" width="17.40" height="13.00" fill="#d4d4d4" stroke="#333" stroke-width="0.8"/>
<line x1="652.94" y1="583.40" x2="652.94" y2="586.00" stroke="#777" stroke-width="1"/>
<circle cx="653.34" cy="565.70" r="1.7" fill="#ffffff" stroke="#222" stroke-width="0.9"/>
<circle cx="648.24" cy="569.40" r="1.7" fill="#ffffff" stroke="#222" stroke-width="0.9"/>
<circle cx="653.34" cy="570.40" r="1.7" fill="#ffffff" stroke="#222" stroke-width="0.9"/>
<circle cx="658.14" cy="569.40" r="1.7" fill="#ffffff" stroke="#222" stroke-width="0.9"/>
<circle cx="648.24" cy="572.50" r="1.7" fill="#ffffff" stroke="#222" stroke-width="0.9"/>
<circle cx="658.14" cy="573.10" r="1.7" fill="#ffffff" stroke="#222" stroke-width="0.9"/>
<circle cx="660.54" cy="571.00" r="1.7" fill="#ffffff" stroke="#222" stroke-width="0.9"/>
<circle cx="653.34" cy="572.50" r="1.7" fill="#ffffff" stroke="#222" stroke-width="0.9"/>
<text x="647.84" y="594.20" font-size="9.8" text-anchor="start" fill="#222" transform="rotate(45 647.84 594.20)">H1299</text>
</svg></body></html>
